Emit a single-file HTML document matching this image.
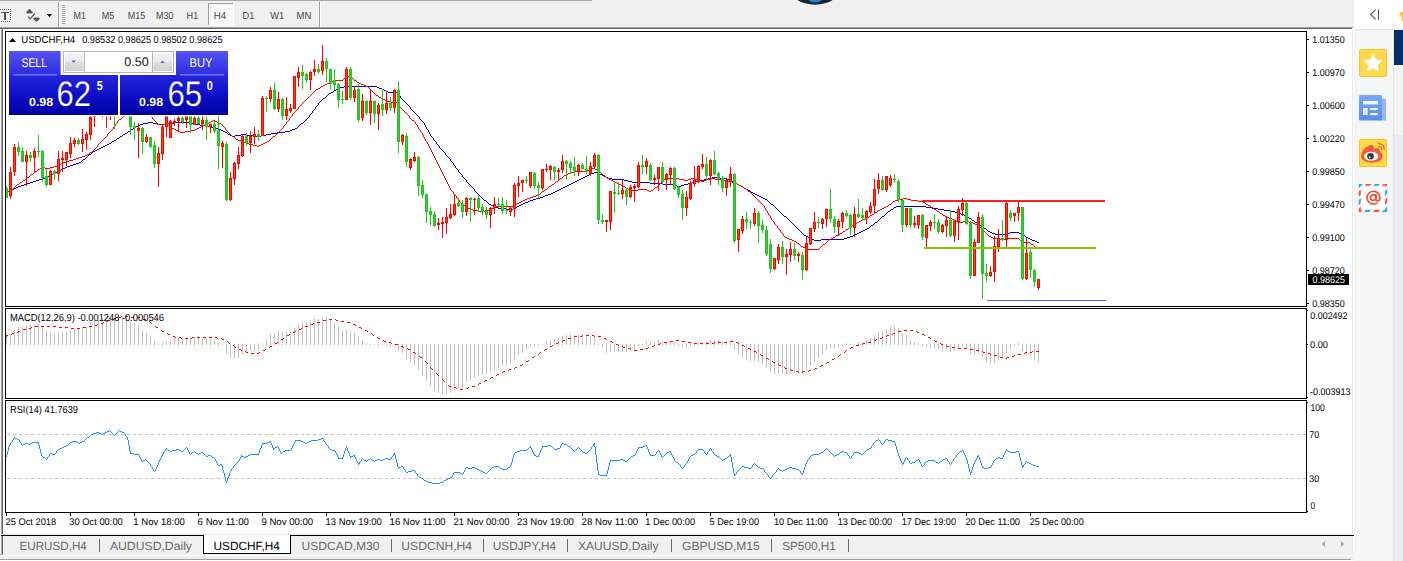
<!DOCTYPE html>
<html><head><meta charset="utf-8"><title>USDCHF,H4</title>
<style>html,body{margin:0;padding:0;background:#f0f0f0;overflow:hidden}body{width:1403px;height:561px;position:relative;font-family:"Liberation Sans",sans-serif}</style></head>
<body>
<svg width="1403" height="561" viewBox="0 0 1403 561" text-rendering="geometricPrecision" style="position:absolute;left:0;top:0;font-family:'Liberation Sans', sans-serif">
<defs>
<linearGradient id="gTop" x1="0" y1="0" x2="0" y2="1"><stop offset="0" stop-color="#5454f2"/><stop offset="1" stop-color="#2c2ce2"/></linearGradient>
<linearGradient id="gBot" x1="0" y1="0" x2="0" y2="1"><stop offset="0" stop-color="#2626dc"/><stop offset="0.55" stop-color="#0c0cc4"/><stop offset="1" stop-color="#0000a2"/></linearGradient>
<linearGradient id="gBotU" gradientUnits="userSpaceOnUse" x1="0" y1="75" x2="0" y2="115"><stop offset="0" stop-color="#2626dc"/><stop offset="0.55" stop-color="#0c0cc4"/><stop offset="1" stop-color="#0000a2"/></linearGradient>
<linearGradient id="gBtn" x1="0" y1="0" x2="0" y2="1"><stop offset="0" stop-color="#f3f3f3"/><stop offset="0.47" stop-color="#ebebeb"/><stop offset="0.53" stop-color="#dfdfdf"/><stop offset="1" stop-color="#d2d2d2"/></linearGradient>
<clipPath id="cMain"><rect x="6" y="32" width="1300" height="274"/></clipPath>
<clipPath id="cMacd"><rect x="6" y="309" width="1300" height="89"/></clipPath>
<clipPath id="cRsi"><rect x="6" y="401" width="1300" height="111"/></clipPath>
</defs>
<rect x="0" y="0" width="1403" height="561" fill="#f0f0f0" />
<rect x="0" y="0" width="592" height="1" fill="#a8a8a8" />
<ellipse cx="815" cy="-13" rx="26" ry="17.700" fill="#1b2330"/>
<ellipse cx="815" cy="-5" rx="9.4" ry="7.5" fill="#1e80d8"/>
<rect x="0" y="27" width="1353" height="1" fill="#a0a0a0" />
<rect x="0" y="28" width="1352" height="1" fill="#696969" />
<rect x="3" y="29" width="1350" height="505" fill="#ffffff" />
<rect x="1" y="29" width="1" height="505" fill="#a0a0a0" />
<rect x="2" y="29" width="1" height="505" fill="#696969" />
<rect x="0" y="29" width="1" height="505" fill="#f6f6f6" />
<rect x="1352" y="29" width="1" height="527" fill="#ececec" />
<rect x="1353" y="29" width="1" height="527" fill="#fbfbfb" />
<path d="M5.5 31.5H1306.5V306.5H5.5Z" fill="#fff" stroke="#000" stroke-width="1" shape-rendering="crispEdges"/>
<path d="M5.5 308.5H1306.5V398.5H5.5Z" fill="#fff" stroke="#000" stroke-width="1" shape-rendering="crispEdges"/>
<path d="M5.5 400.5H1306.5V512.5H5.5Z" fill="#fff" stroke="#000" stroke-width="1" shape-rendering="crispEdges"/>
<path clip-path="url(#cMain)" fill="#0000cd" shape-rendering="crispEdges" d="M344 86h33v1h-33zM340 87h4v1h-4zM377 87h2v1h-2zM338 88h2v1h-2zM379 88h3v1h-3zM336 89h2v1h-2zM382 89h2v1h-2zM334 90h2v1h-2zM384 90h2v1h-2zM333 91h1v1h-1zM386 91h2v1h-2zM331 92h2v1h-2zM388 92h9v1h-9zM329 93h2v1h-2zM397 93h1v1h-1zM328 94h1v1h-1zM398 94h1v1h-1zM327 95h1v1h-1zM399 95h1v1h-1zM326 96h1v1h-1zM400 96h1v1h-1zM325 97h1v1h-1zM400 97h1v1h-1zM323 98h2v1h-2zM401 98h1v1h-1zM322 99h1v1h-1zM402 99h1v1h-1zM321 100h1v1h-1zM403 100h1v1h-1zM320 101h1v1h-1zM404 101h1v1h-1zM319 102h1v1h-1zM405 102h1v1h-1zM318 103h1v1h-1zM406 103h1v1h-1zM318 104h1v1h-1zM407 104h1v1h-1zM317 105h1v1h-1zM408 105h1v1h-1zM316 106h1v1h-1zM409 106h1v1h-1zM315 107h1v1h-1zM410 107h1v1h-1zM315 108h1v1h-1zM410 108h1v1h-1zM314 109h1v1h-1zM411 109h1v1h-1zM313 110h1v1h-1zM412 110h1v1h-1zM312 111h1v1h-1zM413 111h1v1h-1zM312 112h1v1h-1zM414 112h1v1h-1zM311 113h1v1h-1zM415 113h1v1h-1zM310 114h1v1h-1zM416 114h1v1h-1zM309 115h1v1h-1zM417 115h1v1h-1zM309 116h1v1h-1zM418 116h1v1h-1zM308 117h1v1h-1zM419 117h1v1h-1zM307 118h1v1h-1zM419 118h1v1h-1zM306 119h1v1h-1zM420 119h1v1h-1zM305 120h1v1h-1zM421 120h1v1h-1zM304 121h1v1h-1zM422 121h1v1h-1zM148 122h5v1h-5zM174 122h18v1h-18zM303 122h1v1h-1zM423 122h1v1h-1zM143 123h5v1h-5zM153 123h5v1h-5zM165 123h9v1h-9zM192 123h4v1h-4zM301 123h2v1h-2zM424 123h1v1h-1zM140 124h3v1h-3zM158 124h7v1h-7zM196 124h4v1h-4zM300 124h1v1h-1zM424 124h1v1h-1zM138 125h2v1h-2zM200 125h5v1h-5zM299 125h1v1h-1zM425 125h1v1h-1zM136 126h2v1h-2zM205 126h6v1h-6zM298 126h1v1h-1zM425 126h1v1h-1zM135 127h1v1h-1zM211 127h5v1h-5zM297 127h1v1h-1zM426 127h1v1h-1zM133 128h2v1h-2zM216 128h2v1h-2zM295 128h2v1h-2zM426 128h1v1h-1zM131 129h2v1h-2zM218 129h3v1h-3zM292 129h3v1h-3zM427 129h1v1h-1zM130 130h1v1h-1zM221 130h2v1h-2zM290 130h2v1h-2zM428 130h1v1h-1zM128 131h2v1h-2zM223 131h2v1h-2zM285 131h5v1h-5zM428 131h1v1h-1zM127 132h1v1h-1zM225 132h2v1h-2zM277 132h8v1h-8zM429 132h1v1h-1zM125 133h2v1h-2zM227 133h1v1h-1zM271 133h6v1h-6zM429 133h1v1h-1zM123 134h2v1h-2zM228 134h2v1h-2zM241 134h6v1h-6zM266 134h5v1h-5zM430 134h1v1h-1zM122 135h1v1h-1zM230 135h2v1h-2zM235 135h6v1h-6zM247 135h8v1h-8zM261 135h5v1h-5zM430 135h1v1h-1zM120 136h2v1h-2zM232 136h3v1h-3zM255 136h6v1h-6zM431 136h1v1h-1zM119 137h1v1h-1zM432 137h1v1h-1zM117 138h2v1h-2zM433 138h1v1h-1zM116 139h1v1h-1zM433 139h1v1h-1zM114 140h2v1h-2zM434 140h1v1h-1zM112 141h2v1h-2zM435 141h1v1h-1zM111 142h1v1h-1zM436 142h1v1h-1zM109 143h2v1h-2zM436 143h1v1h-1zM107 144h2v1h-2zM437 144h1v1h-1zM105 145h2v1h-2zM438 145h1v1h-1zM103 146h2v1h-2zM439 146h1v1h-1zM101 147h2v1h-2zM439 147h1v1h-1zM99 148h2v1h-2zM440 148h1v1h-1zM97 149h2v1h-2zM441 149h1v1h-1zM95 150h2v1h-2zM442 150h1v1h-1zM93 151h2v1h-2zM443 151h1v1h-1zM92 152h1v1h-1zM444 152h1v1h-1zM91 153h1v1h-1zM445 153h1v1h-1zM89 154h2v1h-2zM445 154h1v1h-1zM88 155h1v1h-1zM446 155h1v1h-1zM87 156h1v1h-1zM447 156h1v1h-1zM86 157h1v1h-1zM448 157h1v1h-1zM85 158h1v1h-1zM449 158h1v1h-1zM83 159h2v1h-2zM450 159h1v1h-1zM82 160h1v1h-1zM450 160h1v1h-1zM81 161h1v1h-1zM451 161h1v1h-1zM79 162h2v1h-2zM452 162h1v1h-1zM76 163h3v1h-3zM453 163h1v1h-1zM73 164h3v1h-3zM453 164h1v1h-1zM70 165h3v1h-3zM454 165h1v1h-1zM67 166h3v1h-3zM455 166h1v1h-1zM65 167h2v1h-2zM455 167h1v1h-1zM63 168h2v1h-2zM456 168h1v1h-1zM61 169h2v1h-2zM457 169h1v1h-1zM59 170h2v1h-2zM458 170h1v1h-1zM57 171h2v1h-2zM458 171h1v1h-1zM55 172h2v1h-2zM459 172h1v1h-1zM594 172h4v1h-4zM53 173h2v1h-2zM460 173h1v1h-1zM591 173h3v1h-3zM598 173h2v1h-2zM51 174h2v1h-2zM461 174h1v1h-1zM589 174h2v1h-2zM600 174h2v1h-2zM49 175h2v1h-2zM462 175h1v1h-1zM587 175h2v1h-2zM602 175h2v1h-2zM47 176h2v1h-2zM462 176h1v1h-1zM585 176h2v1h-2zM604 176h2v1h-2zM45 177h2v1h-2zM463 177h1v1h-1zM583 177h2v1h-2zM606 177h2v1h-2zM712 177h8v1h-8zM42 178h3v1h-3zM464 178h1v1h-1zM581 178h2v1h-2zM608 178h4v1h-4zM708 178h4v1h-4zM720 178h7v1h-7zM39 179h3v1h-3zM465 179h1v1h-1zM579 179h2v1h-2zM612 179h12v1h-12zM704 179h4v1h-4zM727 179h2v1h-2zM36 180h3v1h-3zM466 180h1v1h-1zM577 180h2v1h-2zM624 180h4v1h-4zM700 180h4v1h-4zM729 180h2v1h-2zM33 181h3v1h-3zM466 181h1v1h-1zM575 181h2v1h-2zM628 181h4v1h-4zM696 181h4v1h-4zM731 181h2v1h-2zM30 182h3v1h-3zM467 182h1v1h-1zM573 182h2v1h-2zM632 182h18v1h-18zM692 182h4v1h-4zM733 182h2v1h-2zM27 183h3v1h-3zM468 183h1v1h-1zM571 183h2v1h-2zM650 183h12v1h-12zM688 183h4v1h-4zM735 183h2v1h-2zM24 184h3v1h-3zM469 184h1v1h-1zM569 184h2v1h-2zM662 184h11v1h-11zM684 184h4v1h-4zM737 184h2v1h-2zM21 185h3v1h-3zM470 185h1v1h-1zM567 185h2v1h-2zM673 185h4v1h-4zM681 185h3v1h-3zM739 185h2v1h-2zM18 186h3v1h-3zM471 186h1v1h-1zM565 186h2v1h-2zM677 186h4v1h-4zM741 186h2v1h-2zM16 187h2v1h-2zM472 187h1v1h-1zM563 187h2v1h-2zM743 187h1v1h-1zM14 188h2v1h-2zM473 188h1v1h-1zM561 188h2v1h-2zM744 188h2v1h-2zM12 189h2v1h-2zM474 189h1v1h-1zM559 189h2v1h-2zM746 189h2v1h-2zM10 190h2v1h-2zM474 190h1v1h-1zM557 190h2v1h-2zM748 190h2v1h-2zM8 191h2v1h-2zM475 191h1v1h-1zM555 191h2v1h-2zM750 191h1v1h-1zM6 192h2v1h-2zM476 192h1v1h-1zM553 192h2v1h-2zM751 192h2v1h-2zM477 193h1v1h-1zM551 193h2v1h-2zM753 193h2v1h-2zM478 194h1v1h-1zM548 194h3v1h-3zM755 194h2v1h-2zM479 195h1v1h-1zM545 195h3v1h-3zM757 195h2v1h-2zM480 196h1v1h-1zM543 196h2v1h-2zM759 196h2v1h-2zM481 197h1v1h-1zM540 197h3v1h-3zM761 197h2v1h-2zM482 198h1v1h-1zM536 198h4v1h-4zM763 198h2v1h-2zM483 199h1v1h-1zM533 199h3v1h-3zM765 199h2v1h-2zM484 200h2v1h-2zM530 200h3v1h-3zM767 200h1v1h-1zM486 201h1v1h-1zM528 201h2v1h-2zM768 201h1v1h-1zM487 202h1v1h-1zM525 202h3v1h-3zM769 202h1v1h-1zM488 203h1v1h-1zM523 203h2v1h-2zM770 203h1v1h-1zM489 204h2v1h-2zM521 204h2v1h-2zM771 204h2v1h-2zM491 205h2v1h-2zM519 205h2v1h-2zM773 205h1v1h-1zM493 206h3v1h-3zM517 206h2v1h-2zM774 206h1v1h-1zM896 206h30v1h-30zM496 207h2v1h-2zM515 207h2v1h-2zM775 207h1v1h-1zM894 207h2v1h-2zM926 207h6v1h-6zM498 208h8v1h-8zM513 208h2v1h-2zM776 208h1v1h-1zM893 208h1v1h-1zM932 208h6v1h-6zM506 209h7v1h-7zM777 209h1v1h-1zM891 209h2v1h-2zM938 209h6v1h-6zM778 210h1v1h-1zM890 210h1v1h-1zM944 210h6v1h-6zM779 211h1v1h-1zM888 211h2v1h-2zM950 211h5v1h-5zM780 212h1v1h-1zM887 212h1v1h-1zM955 212h4v1h-4zM781 213h1v1h-1zM886 213h1v1h-1zM959 213h2v1h-2zM782 214h1v1h-1zM885 214h1v1h-1zM961 214h3v1h-3zM783 215h1v1h-1zM884 215h1v1h-1zM964 215h2v1h-2zM784 216h2v1h-2zM882 216h2v1h-2zM966 216h2v1h-2zM786 217h1v1h-1zM881 217h1v1h-1zM968 217h1v1h-1zM787 218h1v1h-1zM880 218h1v1h-1zM969 218h2v1h-2zM788 219h1v1h-1zM879 219h1v1h-1zM971 219h1v1h-1zM789 220h1v1h-1zM878 220h1v1h-1zM972 220h2v1h-2zM790 221h1v1h-1zM877 221h1v1h-1zM974 221h1v1h-1zM791 222h1v1h-1zM875 222h2v1h-2zM975 222h2v1h-2zM792 223h1v1h-1zM874 223h1v1h-1zM977 223h1v1h-1zM793 224h1v1h-1zM873 224h1v1h-1zM978 224h2v1h-2zM794 225h1v1h-1zM871 225h2v1h-2zM980 225h2v1h-2zM795 226h1v1h-1zM870 226h1v1h-1zM982 226h1v1h-1zM796 227h1v1h-1zM869 227h1v1h-1zM983 227h1v1h-1zM797 228h1v1h-1zM867 228h2v1h-2zM984 228h2v1h-2zM798 229h1v1h-1zM865 229h2v1h-2zM986 229h1v1h-1zM799 230h1v1h-1zM863 230h2v1h-2zM987 230h1v1h-1zM800 231h1v1h-1zM861 231h2v1h-2zM988 231h2v1h-2zM801 232h1v1h-1zM859 232h2v1h-2zM990 232h2v1h-2zM1010 232h9v1h-9zM802 233h1v1h-1zM857 233h2v1h-2zM992 233h3v1h-3zM1006 233h4v1h-4zM1019 233h2v1h-2zM803 234h1v1h-1zM855 234h2v1h-2zM995 234h11v1h-11zM1021 234h2v1h-2zM804 235h2v1h-2zM853 235h2v1h-2zM1023 235h2v1h-2zM806 236h2v1h-2zM850 236h3v1h-3zM1025 236h1v1h-1zM808 237h2v1h-2zM847 237h3v1h-3zM1026 237h2v1h-2zM810 238h2v1h-2zM844 238h3v1h-3zM1028 238h2v1h-2zM812 239h2v1h-2zM821 239h23v1h-23zM1030 239h2v1h-2zM814 240h7v1h-7zM1032 240h3v1h-3zM1035 241h2v1h-2zM1037 242h2v1h-2z"/>
<path clip-path="url(#cMain)" fill="#ff0000" shape-rendering="crispEdges" d="M347 76h2v1h-2zM346 77h1v1h-1zM349 77h2v1h-2zM344 78h2v1h-2zM351 78h2v1h-2zM343 79h1v1h-1zM353 79h1v1h-1zM335 80h8v1h-8zM354 80h2v1h-2zM332 81h3v1h-3zM356 81h1v1h-1zM330 82h2v1h-2zM357 82h2v1h-2zM327 83h3v1h-3zM359 83h2v1h-2zM325 84h2v1h-2zM361 84h3v1h-3zM323 85h2v1h-2zM364 85h2v1h-2zM321 86h2v1h-2zM366 86h2v1h-2zM320 87h1v1h-1zM368 87h1v1h-1zM318 88h2v1h-2zM369 88h1v1h-1zM316 89h2v1h-2zM370 89h1v1h-1zM315 90h1v1h-1zM371 90h1v1h-1zM314 91h1v1h-1zM372 91h1v1h-1zM313 92h1v1h-1zM373 92h1v1h-1zM312 93h1v1h-1zM374 93h1v1h-1zM311 94h1v1h-1zM375 94h1v1h-1zM310 95h1v1h-1zM376 95h2v1h-2zM309 96h1v1h-1zM378 96h1v1h-1zM308 97h1v1h-1zM379 97h2v1h-2zM307 98h1v1h-1zM381 98h2v1h-2zM306 99h1v1h-1zM383 99h2v1h-2zM305 100h1v1h-1zM385 100h2v1h-2zM304 101h1v1h-1zM387 101h3v1h-3zM303 102h1v1h-1zM390 102h7v1h-7zM302 103h1v1h-1zM397 103h1v1h-1zM301 104h1v1h-1zM398 104h1v1h-1zM300 105h1v1h-1zM398 105h1v1h-1zM299 106h1v1h-1zM399 106h1v1h-1zM298 107h1v1h-1zM400 107h1v1h-1zM298 108h1v1h-1zM401 108h1v1h-1zM297 109h1v1h-1zM402 109h1v1h-1zM134 110h6v1h-6zM296 110h1v1h-1zM403 110h1v1h-1zM132 111h2v1h-2zM140 111h7v1h-7zM295 111h1v1h-1zM404 111h1v1h-1zM130 112h2v1h-2zM147 112h1v1h-1zM294 112h1v1h-1zM405 112h1v1h-1zM128 113h2v1h-2zM148 113h1v1h-1zM293 113h1v1h-1zM406 113h1v1h-1zM126 114h2v1h-2zM149 114h1v1h-1zM292 114h1v1h-1zM407 114h1v1h-1zM125 115h1v1h-1zM150 115h1v1h-1zM292 115h1v1h-1zM408 115h1v1h-1zM123 116h2v1h-2zM151 116h1v1h-1zM291 116h1v1h-1zM409 116h1v1h-1zM122 117h1v1h-1zM152 117h1v1h-1zM290 117h1v1h-1zM409 117h1v1h-1zM121 118h1v1h-1zM152 118h1v1h-1zM289 118h1v1h-1zM410 118h1v1h-1zM119 119h2v1h-2zM153 119h1v1h-1zM289 119h1v1h-1zM411 119h1v1h-1zM118 120h1v1h-1zM154 120h1v1h-1zM213 120h2v1h-2zM288 120h1v1h-1zM412 120h2v1h-2zM117 121h1v1h-1zM155 121h1v1h-1zM211 121h2v1h-2zM215 121h2v1h-2zM287 121h1v1h-1zM414 121h1v1h-1zM117 122h1v1h-1zM156 122h1v1h-1zM209 122h2v1h-2zM217 122h2v1h-2zM286 122h1v1h-1zM415 122h1v1h-1zM116 123h1v1h-1zM156 123h1v1h-1zM207 123h2v1h-2zM219 123h2v1h-2zM286 123h1v1h-1zM415 123h1v1h-1zM115 124h1v1h-1zM157 124h10v1h-10zM205 124h2v1h-2zM221 124h1v1h-1zM285 124h1v1h-1zM416 124h1v1h-1zM115 125h1v1h-1zM167 125h2v1h-2zM203 125h2v1h-2zM222 125h1v1h-1zM284 125h1v1h-1zM417 125h1v1h-1zM114 126h1v1h-1zM169 126h2v1h-2zM201 126h2v1h-2zM223 126h1v1h-1zM283 126h1v1h-1zM417 126h1v1h-1zM113 127h1v1h-1zM171 127h1v1h-1zM199 127h2v1h-2zM224 127h1v1h-1zM283 127h1v1h-1zM418 127h1v1h-1zM113 128h1v1h-1zM172 128h2v1h-2zM197 128h2v1h-2zM225 128h1v1h-1zM282 128h1v1h-1zM418 128h1v1h-1zM112 129h1v1h-1zM174 129h2v1h-2zM195 129h2v1h-2zM225 129h1v1h-1zM281 129h1v1h-1zM419 129h1v1h-1zM111 130h1v1h-1zM176 130h2v1h-2zM191 130h4v1h-4zM226 130h1v1h-1zM280 130h1v1h-1zM420 130h1v1h-1zM110 131h1v1h-1zM178 131h2v1h-2zM185 131h6v1h-6zM227 131h1v1h-1zM279 131h1v1h-1zM420 131h1v1h-1zM109 132h1v1h-1zM180 132h5v1h-5zM228 132h1v1h-1zM278 132h1v1h-1zM421 132h1v1h-1zM108 133h1v1h-1zM229 133h1v1h-1zM277 133h1v1h-1zM422 133h1v1h-1zM107 134h1v1h-1zM230 134h1v1h-1zM276 134h1v1h-1zM422 134h1v1h-1zM107 135h1v1h-1zM231 135h1v1h-1zM275 135h1v1h-1zM423 135h1v1h-1zM106 136h1v1h-1zM232 136h2v1h-2zM273 136h2v1h-2zM423 136h1v1h-1zM105 137h1v1h-1zM234 137h1v1h-1zM272 137h1v1h-1zM424 137h1v1h-1zM104 138h1v1h-1zM235 138h1v1h-1zM271 138h1v1h-1zM424 138h1v1h-1zM103 139h1v1h-1zM236 139h2v1h-2zM270 139h1v1h-1zM425 139h1v1h-1zM102 140h1v1h-1zM238 140h3v1h-3zM269 140h1v1h-1zM425 140h1v1h-1zM101 141h1v1h-1zM241 141h2v1h-2zM267 141h2v1h-2zM426 141h1v1h-1zM100 142h1v1h-1zM243 142h3v1h-3zM265 142h2v1h-2zM427 142h1v1h-1zM99 143h1v1h-1zM246 143h3v1h-3zM263 143h2v1h-2zM427 143h1v1h-1zM98 144h1v1h-1zM249 144h4v1h-4zM261 144h2v1h-2zM428 144h1v1h-1zM97 145h1v1h-1zM253 145h4v1h-4zM259 145h2v1h-2zM428 145h1v1h-1zM97 146h1v1h-1zM257 146h2v1h-2zM429 146h1v1h-1zM96 147h1v1h-1zM429 147h1v1h-1zM95 148h1v1h-1zM430 148h1v1h-1zM94 149h1v1h-1zM430 149h1v1h-1zM93 150h1v1h-1zM431 150h1v1h-1zM92 151h1v1h-1zM431 151h1v1h-1zM90 152h2v1h-2zM432 152h1v1h-1zM89 153h1v1h-1zM432 153h1v1h-1zM87 154h2v1h-2zM433 154h1v1h-1zM85 155h2v1h-2zM433 155h1v1h-1zM82 156h3v1h-3zM434 156h1v1h-1zM79 157h3v1h-3zM434 157h1v1h-1zM76 158h3v1h-3zM435 158h1v1h-1zM73 159h3v1h-3zM435 159h1v1h-1zM69 160h4v1h-4zM436 160h1v1h-1zM66 161h3v1h-3zM436 161h1v1h-1zM63 162h3v1h-3zM437 162h1v1h-1zM61 163h2v1h-2zM437 163h1v1h-1zM59 164h2v1h-2zM438 164h1v1h-1zM57 165h2v1h-2zM438 165h1v1h-1zM54 166h3v1h-3zM439 166h1v1h-1zM42 167h3v1h-3zM50 167h4v1h-4zM439 167h1v1h-1zM40 168h2v1h-2zM45 168h5v1h-5zM440 168h1v1h-1zM591 168h4v1h-4zM38 169h2v1h-2zM440 169h1v1h-1zM589 169h2v1h-2zM595 169h2v1h-2zM37 170h1v1h-1zM441 170h1v1h-1zM587 170h2v1h-2zM597 170h1v1h-1zM35 171h2v1h-2zM441 171h1v1h-1zM575 171h12v1h-12zM598 171h1v1h-1zM34 172h1v1h-1zM442 172h1v1h-1zM571 172h4v1h-4zM599 172h2v1h-2zM33 173h1v1h-1zM442 173h1v1h-1zM568 173h3v1h-3zM601 173h1v1h-1zM31 174h2v1h-2zM443 174h1v1h-1zM566 174h2v1h-2zM602 174h1v1h-1zM30 175h1v1h-1zM443 175h1v1h-1zM564 175h2v1h-2zM603 175h2v1h-2zM29 176h1v1h-1zM444 176h1v1h-1zM563 176h1v1h-1zM605 176h1v1h-1zM27 177h2v1h-2zM444 177h1v1h-1zM562 177h1v1h-1zM606 177h1v1h-1zM26 178h1v1h-1zM445 178h1v1h-1zM560 178h2v1h-2zM607 178h2v1h-2zM665 178h14v1h-14zM691 178h3v1h-3zM710 178h5v1h-5zM25 179h1v1h-1zM445 179h1v1h-1zM559 179h1v1h-1zM609 179h2v1h-2zM664 179h1v1h-1zM679 179h5v1h-5zM688 179h3v1h-3zM694 179h3v1h-3zM707 179h3v1h-3zM715 179h8v1h-8zM23 180h2v1h-2zM446 180h1v1h-1zM558 180h1v1h-1zM611 180h2v1h-2zM663 180h1v1h-1zM684 180h4v1h-4zM697 180h4v1h-4zM704 180h3v1h-3zM723 180h5v1h-5zM22 181h1v1h-1zM446 181h1v1h-1zM556 181h2v1h-2zM613 181h2v1h-2zM662 181h1v1h-1zM701 181h3v1h-3zM728 181h4v1h-4zM20 182h2v1h-2zM447 182h1v1h-1zM555 182h1v1h-1zM615 182h2v1h-2zM661 182h1v1h-1zM732 182h3v1h-3zM19 183h1v1h-1zM447 183h1v1h-1zM554 183h1v1h-1zM617 183h2v1h-2zM660 183h1v1h-1zM735 183h2v1h-2zM17 184h2v1h-2zM448 184h1v1h-1zM552 184h2v1h-2zM619 184h2v1h-2zM659 184h1v1h-1zM737 184h2v1h-2zM16 185h1v1h-1zM448 185h1v1h-1zM551 185h1v1h-1zM621 185h2v1h-2zM658 185h1v1h-1zM739 185h2v1h-2zM15 186h1v1h-1zM449 186h1v1h-1zM549 186h2v1h-2zM623 186h2v1h-2zM657 186h1v1h-1zM741 186h2v1h-2zM14 187h1v1h-1zM449 187h1v1h-1zM548 187h1v1h-1zM625 187h1v1h-1zM655 187h2v1h-2zM743 187h1v1h-1zM13 188h1v1h-1zM450 188h1v1h-1zM547 188h1v1h-1zM626 188h2v1h-2zM654 188h1v1h-1zM744 188h2v1h-2zM12 189h1v1h-1zM450 189h1v1h-1zM545 189h2v1h-2zM628 189h2v1h-2zM638 189h9v1h-9zM653 189h1v1h-1zM746 189h1v1h-1zM10 190h2v1h-2zM451 190h1v1h-1zM544 190h1v1h-1zM630 190h8v1h-8zM647 190h2v1h-2zM651 190h2v1h-2zM747 190h1v1h-1zM8 191h2v1h-2zM452 191h1v1h-1zM542 191h2v1h-2zM649 191h2v1h-2zM748 191h2v1h-2zM6 192h2v1h-2zM453 192h1v1h-1zM541 192h1v1h-1zM750 192h1v1h-1zM453 193h1v1h-1zM540 193h1v1h-1zM751 193h1v1h-1zM454 194h1v1h-1zM538 194h2v1h-2zM752 194h1v1h-1zM455 195h1v1h-1zM536 195h2v1h-2zM753 195h1v1h-1zM456 196h1v1h-1zM533 196h3v1h-3zM754 196h1v1h-1zM456 197h1v1h-1zM530 197h3v1h-3zM755 197h1v1h-1zM457 198h1v1h-1zM527 198h3v1h-3zM756 198h1v1h-1zM903 198h4v1h-4zM458 199h1v1h-1zM525 199h2v1h-2zM757 199h1v1h-1zM898 199h5v1h-5zM907 199h4v1h-4zM459 200h1v1h-1zM523 200h2v1h-2zM758 200h1v1h-1zM895 200h3v1h-3zM911 200h7v1h-7zM459 201h1v1h-1zM521 201h2v1h-2zM759 201h1v1h-1zM893 201h2v1h-2zM918 201h5v1h-5zM460 202h1v1h-1zM519 202h2v1h-2zM760 202h1v1h-1zM892 202h1v1h-1zM923 202h2v1h-2zM461 203h2v1h-2zM517 203h2v1h-2zM761 203h1v1h-1zM891 203h1v1h-1zM925 203h1v1h-1zM463 204h1v1h-1zM515 204h2v1h-2zM762 204h1v1h-1zM889 204h2v1h-2zM926 204h2v1h-2zM464 205h1v1h-1zM513 205h2v1h-2zM763 205h1v1h-1zM888 205h1v1h-1zM928 205h2v1h-2zM465 206h2v1h-2zM496 206h17v1h-17zM764 206h1v1h-1zM886 206h2v1h-2zM930 206h1v1h-1zM467 207h1v1h-1zM494 207h2v1h-2zM764 207h1v1h-1zM884 207h2v1h-2zM931 207h2v1h-2zM468 208h2v1h-2zM492 208h2v1h-2zM765 208h1v1h-1zM882 208h2v1h-2zM933 208h1v1h-1zM470 209h3v1h-3zM490 209h2v1h-2zM765 209h1v1h-1zM880 209h2v1h-2zM934 209h2v1h-2zM473 210h5v1h-5zM485 210h5v1h-5zM766 210h1v1h-1zM878 210h2v1h-2zM936 210h1v1h-1zM478 211h7v1h-7zM767 211h1v1h-1zM877 211h1v1h-1zM937 211h2v1h-2zM767 212h1v1h-1zM875 212h2v1h-2zM939 212h1v1h-1zM768 213h1v1h-1zM874 213h1v1h-1zM940 213h2v1h-2zM768 214h1v1h-1zM872 214h2v1h-2zM942 214h1v1h-1zM769 215h1v1h-1zM870 215h2v1h-2zM943 215h2v1h-2zM770 216h1v1h-1zM869 216h1v1h-1zM945 216h2v1h-2zM770 217h1v1h-1zM867 217h2v1h-2zM947 217h2v1h-2zM771 218h1v1h-1zM865 218h2v1h-2zM949 218h3v1h-3zM771 219h1v1h-1zM863 219h2v1h-2zM952 219h2v1h-2zM772 220h1v1h-1zM861 220h2v1h-2zM954 220h2v1h-2zM773 221h1v1h-1zM859 221h2v1h-2zM956 221h2v1h-2zM963 221h6v1h-6zM774 222h1v1h-1zM857 222h2v1h-2zM958 222h5v1h-5zM969 222h4v1h-4zM774 223h1v1h-1zM855 223h2v1h-2zM973 223h2v1h-2zM775 224h1v1h-1zM854 224h1v1h-1zM975 224h2v1h-2zM776 225h1v1h-1zM852 225h2v1h-2zM977 225h1v1h-1zM777 226h1v1h-1zM851 226h1v1h-1zM978 226h2v1h-2zM777 227h1v1h-1zM849 227h2v1h-2zM980 227h1v1h-1zM778 228h1v1h-1zM848 228h1v1h-1zM981 228h1v1h-1zM779 229h1v1h-1zM846 229h2v1h-2zM982 229h1v1h-1zM780 230h1v1h-1zM845 230h1v1h-1zM983 230h1v1h-1zM780 231h1v1h-1zM843 231h2v1h-2zM984 231h1v1h-1zM781 232h1v1h-1zM842 232h1v1h-1zM985 232h1v1h-1zM782 233h1v1h-1zM840 233h2v1h-2zM986 233h1v1h-1zM783 234h1v1h-1zM838 234h2v1h-2zM987 234h1v1h-1zM783 235h1v1h-1zM836 235h2v1h-2zM988 235h1v1h-1zM784 236h1v1h-1zM835 236h1v1h-1zM989 236h2v1h-2zM785 237h2v1h-2zM833 237h2v1h-2zM991 237h2v1h-2zM787 238h2v1h-2zM831 238h2v1h-2zM993 238h5v1h-5zM1005 238h14v1h-14zM789 239h3v1h-3zM829 239h2v1h-2zM998 239h7v1h-7zM1019 239h1v1h-1zM792 240h2v1h-2zM828 240h1v1h-1zM1020 240h2v1h-2zM794 241h2v1h-2zM827 241h1v1h-1zM1022 241h1v1h-1zM796 242h1v1h-1zM826 242h1v1h-1zM1023 242h7v1h-7zM797 243h2v1h-2zM825 243h1v1h-1zM1030 243h1v1h-1zM799 244h1v1h-1zM823 244h2v1h-2zM1031 244h2v1h-2zM800 245h1v1h-1zM822 245h1v1h-1zM1033 245h1v1h-1zM801 246h2v1h-2zM821 246h1v1h-1zM1034 246h1v1h-1zM803 247h2v1h-2zM820 247h1v1h-1zM805 248h3v1h-3zM819 248h1v1h-1zM808 249h11v1h-11z"/>
<g clip-path="url(#cMain)" shape-rendering="crispEdges">
<rect x="6" y="186" width="1" height="12" fill="#22c522"/>
<rect x="5" y="188" width="3" height="10" fill="#22c522"/>
<rect x="6" y="189" width="1" height="8" fill="#32cd32"/>
<rect x="10" y="167" width="1" height="32" fill="#ff0000"/>
<rect x="9" y="172" width="3" height="24" fill="#ff0000"/>
<rect x="10" y="173" width="1" height="22" fill="#ff4500"/>
<rect x="14" y="144" width="1" height="32" fill="#ff0000"/>
<rect x="13" y="147" width="3" height="25" fill="#ff0000"/>
<rect x="14" y="148" width="1" height="23" fill="#ff4500"/>
<rect x="18" y="142" width="1" height="14" fill="#22c522"/>
<rect x="17" y="147" width="3" height="5" fill="#22c522"/>
<rect x="18" y="148" width="1" height="3" fill="#32cd32"/>
<rect x="22" y="147" width="1" height="15" fill="#22c522"/>
<rect x="21" y="151" width="3" height="11" fill="#22c522"/>
<rect x="22" y="152" width="1" height="9" fill="#32cd32"/>
<rect x="26" y="151" width="1" height="35" fill="#ff0000"/>
<rect x="25" y="155" width="3" height="7" fill="#ff0000"/>
<rect x="26" y="156" width="1" height="5" fill="#ff4500"/>
<rect x="30" y="152" width="1" height="10" fill="#22c522"/>
<rect x="29" y="155" width="3" height="3" fill="#22c522"/>
<rect x="30" y="156" width="1" height="1" fill="#32cd32"/>
<rect x="34" y="148" width="1" height="25" fill="#ff0000"/>
<rect x="33" y="151" width="3" height="7" fill="#ff0000"/>
<rect x="34" y="152" width="1" height="5" fill="#ff4500"/>
<rect x="38" y="135" width="1" height="22" fill="#22c522"/>
<rect x="37" y="151" width="3" height="1" fill="#22c522"/>
<rect x="42" y="150" width="1" height="32" fill="#22c522"/>
<rect x="41" y="151" width="3" height="27" fill="#22c522"/>
<rect x="42" y="152" width="1" height="25" fill="#32cd32"/>
<rect x="46" y="169" width="1" height="18" fill="#22c522"/>
<rect x="45" y="176" width="3" height="9" fill="#22c522"/>
<rect x="46" y="177" width="1" height="7" fill="#32cd32"/>
<rect x="50" y="170" width="1" height="15" fill="#ff0000"/>
<rect x="49" y="171" width="3" height="14" fill="#ff0000"/>
<rect x="50" y="172" width="1" height="12" fill="#ff4500"/>
<rect x="54" y="170" width="1" height="10" fill="#22c522"/>
<rect x="53" y="171" width="3" height="3" fill="#22c522"/>
<rect x="54" y="172" width="1" height="1" fill="#32cd32"/>
<rect x="58" y="151" width="1" height="30" fill="#ff0000"/>
<rect x="57" y="159" width="3" height="15" fill="#ff0000"/>
<rect x="58" y="160" width="1" height="13" fill="#ff4500"/>
<rect x="62" y="151" width="1" height="21" fill="#ff0000"/>
<rect x="61" y="158" width="3" height="2" fill="#ff0000"/>
<rect x="66" y="152" width="1" height="14" fill="#ff0000"/>
<rect x="65" y="152" width="3" height="8" fill="#ff0000"/>
<rect x="66" y="153" width="1" height="6" fill="#ff4500"/>
<rect x="70" y="137" width="1" height="21" fill="#ff0000"/>
<rect x="69" y="143" width="3" height="11" fill="#ff0000"/>
<rect x="70" y="144" width="1" height="9" fill="#ff4500"/>
<rect x="74" y="138" width="1" height="9" fill="#ff0000"/>
<rect x="73" y="140" width="3" height="4" fill="#ff0000"/>
<rect x="74" y="141" width="1" height="2" fill="#ff4500"/>
<rect x="78" y="138" width="1" height="7" fill="#22c522"/>
<rect x="77" y="140" width="3" height="4" fill="#22c522"/>
<rect x="78" y="141" width="1" height="2" fill="#32cd32"/>
<rect x="82" y="129" width="1" height="23" fill="#ff0000"/>
<rect x="81" y="139" width="3" height="5" fill="#ff0000"/>
<rect x="82" y="140" width="1" height="3" fill="#ff4500"/>
<rect x="86" y="132" width="1" height="18" fill="#ff0000"/>
<rect x="85" y="134" width="3" height="6" fill="#ff0000"/>
<rect x="86" y="135" width="1" height="4" fill="#ff4500"/>
<rect x="90" y="115" width="1" height="25" fill="#ff0000"/>
<rect x="89" y="117" width="3" height="18" fill="#ff0000"/>
<rect x="90" y="118" width="1" height="16" fill="#ff4500"/>
<rect x="94" y="106" width="1" height="21" fill="#ff0000"/>
<rect x="93" y="108" width="3" height="9" fill="#ff0000"/>
<rect x="94" y="109" width="1" height="7" fill="#ff4500"/>
<rect x="98" y="104" width="1" height="10" fill="#22c522"/>
<rect x="97" y="108" width="3" height="4" fill="#22c522"/>
<rect x="98" y="109" width="1" height="2" fill="#32cd32"/>
<rect x="102" y="108" width="1" height="10" fill="#22c522"/>
<rect x="101" y="110" width="3" height="6" fill="#22c522"/>
<rect x="102" y="111" width="1" height="4" fill="#32cd32"/>
<rect x="106" y="105" width="1" height="23" fill="#ff0000"/>
<rect x="105" y="108" width="3" height="6" fill="#ff0000"/>
<rect x="106" y="109" width="1" height="4" fill="#ff4500"/>
<rect x="110" y="100" width="1" height="20" fill="#ff0000"/>
<rect x="109" y="104" width="3" height="8" fill="#ff0000"/>
<rect x="110" y="105" width="1" height="6" fill="#ff4500"/>
<rect x="114" y="100" width="1" height="29" fill="#22c522"/>
<rect x="113" y="104" width="3" height="6" fill="#22c522"/>
<rect x="114" y="105" width="1" height="4" fill="#32cd32"/>
<rect x="118" y="98" width="1" height="12" fill="#ff0000"/>
<rect x="117" y="100" width="3" height="8" fill="#ff0000"/>
<rect x="118" y="101" width="1" height="6" fill="#ff4500"/>
<rect x="122" y="98" width="1" height="12" fill="#22c522"/>
<rect x="121" y="100" width="3" height="6" fill="#22c522"/>
<rect x="122" y="101" width="1" height="4" fill="#32cd32"/>
<rect x="126" y="98" width="1" height="12" fill="#ff0000"/>
<rect x="125" y="100" width="3" height="6" fill="#ff0000"/>
<rect x="126" y="101" width="1" height="4" fill="#ff4500"/>
<rect x="130" y="100" width="1" height="35" fill="#22c522"/>
<rect x="129" y="105" width="3" height="22" fill="#22c522"/>
<rect x="130" y="106" width="1" height="20" fill="#32cd32"/>
<rect x="134" y="122" width="1" height="18" fill="#22c522"/>
<rect x="133" y="126" width="3" height="2" fill="#22c522"/>
<rect x="138" y="123" width="1" height="35" fill="#ff0000"/>
<rect x="137" y="128" width="3" height="3" fill="#ff0000"/>
<rect x="138" y="129" width="1" height="1" fill="#ff4500"/>
<rect x="142" y="127" width="1" height="27" fill="#22c522"/>
<rect x="141" y="128" width="3" height="14" fill="#22c522"/>
<rect x="142" y="129" width="1" height="12" fill="#32cd32"/>
<rect x="146" y="134" width="1" height="9" fill="#ff0000"/>
<rect x="145" y="137" width="3" height="5" fill="#ff0000"/>
<rect x="146" y="138" width="1" height="3" fill="#ff4500"/>
<rect x="150" y="137" width="1" height="11" fill="#22c522"/>
<rect x="149" y="137" width="3" height="10" fill="#22c522"/>
<rect x="150" y="138" width="1" height="8" fill="#32cd32"/>
<rect x="154" y="141" width="1" height="27" fill="#22c522"/>
<rect x="153" y="145" width="3" height="19" fill="#22c522"/>
<rect x="154" y="146" width="1" height="17" fill="#32cd32"/>
<rect x="158" y="147" width="1" height="40" fill="#ff0000"/>
<rect x="157" y="153" width="3" height="11" fill="#ff0000"/>
<rect x="158" y="154" width="1" height="9" fill="#ff4500"/>
<rect x="162" y="124" width="1" height="36" fill="#ff0000"/>
<rect x="161" y="127" width="3" height="27" fill="#ff0000"/>
<rect x="162" y="128" width="1" height="25" fill="#ff4500"/>
<rect x="166" y="110" width="1" height="27" fill="#ff0000"/>
<rect x="165" y="112" width="3" height="15" fill="#ff0000"/>
<rect x="166" y="113" width="1" height="13" fill="#ff4500"/>
<rect x="170" y="120" width="1" height="18" fill="#ff0000"/>
<rect x="169" y="121" width="3" height="17" fill="#ff0000"/>
<rect x="170" y="122" width="1" height="15" fill="#ff4500"/>
<rect x="174" y="119" width="1" height="7" fill="#ff0000"/>
<rect x="173" y="121" width="3" height="2" fill="#ff0000"/>
<rect x="178" y="114" width="1" height="17" fill="#ff0000"/>
<rect x="177" y="118" width="3" height="3" fill="#ff0000"/>
<rect x="178" y="119" width="1" height="1" fill="#ff4500"/>
<rect x="182" y="114" width="1" height="10" fill="#22c522"/>
<rect x="181" y="118" width="3" height="4" fill="#22c522"/>
<rect x="182" y="119" width="1" height="2" fill="#32cd32"/>
<rect x="186" y="112" width="1" height="16" fill="#ff0000"/>
<rect x="185" y="114" width="3" height="6" fill="#ff0000"/>
<rect x="186" y="115" width="1" height="4" fill="#ff4500"/>
<rect x="190" y="112" width="1" height="21" fill="#22c522"/>
<rect x="189" y="114" width="3" height="11" fill="#22c522"/>
<rect x="190" y="115" width="1" height="9" fill="#32cd32"/>
<rect x="194" y="114" width="1" height="11" fill="#ff0000"/>
<rect x="193" y="118" width="3" height="7" fill="#ff0000"/>
<rect x="194" y="119" width="1" height="5" fill="#ff4500"/>
<rect x="198" y="114" width="1" height="10" fill="#22c522"/>
<rect x="197" y="118" width="3" height="6" fill="#22c522"/>
<rect x="198" y="119" width="1" height="4" fill="#32cd32"/>
<rect x="202" y="114" width="1" height="16" fill="#ff0000"/>
<rect x="201" y="120" width="3" height="4" fill="#ff0000"/>
<rect x="202" y="121" width="1" height="2" fill="#ff4500"/>
<rect x="206" y="112" width="1" height="28" fill="#22c522"/>
<rect x="205" y="120" width="3" height="7" fill="#22c522"/>
<rect x="206" y="121" width="1" height="5" fill="#32cd32"/>
<rect x="210" y="124" width="1" height="9" fill="#ff0000"/>
<rect x="209" y="124" width="3" height="3" fill="#ff0000"/>
<rect x="210" y="125" width="1" height="1" fill="#ff4500"/>
<rect x="214" y="121" width="1" height="12" fill="#22c522"/>
<rect x="213" y="124" width="3" height="7" fill="#22c522"/>
<rect x="214" y="125" width="1" height="5" fill="#32cd32"/>
<rect x="218" y="112" width="1" height="57" fill="#22c522"/>
<rect x="217" y="130" width="3" height="16" fill="#22c522"/>
<rect x="218" y="131" width="1" height="14" fill="#32cd32"/>
<rect x="222" y="141" width="1" height="27" fill="#ff0000"/>
<rect x="221" y="143" width="3" height="4" fill="#ff0000"/>
<rect x="222" y="144" width="1" height="2" fill="#ff4500"/>
<rect x="226" y="142" width="1" height="59" fill="#22c522"/>
<rect x="225" y="144" width="3" height="56" fill="#22c522"/>
<rect x="226" y="145" width="1" height="54" fill="#32cd32"/>
<rect x="230" y="172" width="1" height="29" fill="#ff0000"/>
<rect x="229" y="178" width="3" height="22" fill="#ff0000"/>
<rect x="230" y="179" width="1" height="20" fill="#ff4500"/>
<rect x="234" y="162" width="1" height="23" fill="#ff0000"/>
<rect x="233" y="163" width="3" height="16" fill="#ff0000"/>
<rect x="234" y="164" width="1" height="14" fill="#ff4500"/>
<rect x="238" y="147" width="1" height="22" fill="#ff0000"/>
<rect x="237" y="155" width="3" height="9" fill="#ff0000"/>
<rect x="238" y="156" width="1" height="7" fill="#ff4500"/>
<rect x="242" y="134" width="1" height="23" fill="#ff0000"/>
<rect x="241" y="136" width="3" height="20" fill="#ff0000"/>
<rect x="242" y="137" width="1" height="18" fill="#ff4500"/>
<rect x="246" y="133" width="1" height="13" fill="#22c522"/>
<rect x="245" y="136" width="3" height="7" fill="#22c522"/>
<rect x="246" y="137" width="1" height="5" fill="#32cd32"/>
<rect x="250" y="131" width="1" height="22" fill="#ff0000"/>
<rect x="249" y="136" width="3" height="7" fill="#ff0000"/>
<rect x="250" y="137" width="1" height="5" fill="#ff4500"/>
<rect x="254" y="127" width="1" height="17" fill="#ff0000"/>
<rect x="253" y="134" width="3" height="3" fill="#ff0000"/>
<rect x="254" y="135" width="1" height="1" fill="#ff4500"/>
<rect x="258" y="130" width="1" height="11" fill="#22c522"/>
<rect x="257" y="134" width="3" height="3" fill="#22c522"/>
<rect x="258" y="135" width="1" height="1" fill="#32cd32"/>
<rect x="262" y="96" width="1" height="40" fill="#ff0000"/>
<rect x="261" y="98" width="3" height="38" fill="#ff0000"/>
<rect x="262" y="99" width="1" height="36" fill="#ff4500"/>
<rect x="266" y="96" width="1" height="16" fill="#22c522"/>
<rect x="265" y="98" width="3" height="1" fill="#22c522"/>
<rect x="270" y="87" width="1" height="15" fill="#ff0000"/>
<rect x="269" y="90" width="3" height="9" fill="#ff0000"/>
<rect x="270" y="91" width="1" height="7" fill="#ff4500"/>
<rect x="274" y="83" width="1" height="27" fill="#22c522"/>
<rect x="273" y="90" width="3" height="19" fill="#22c522"/>
<rect x="274" y="91" width="1" height="17" fill="#32cd32"/>
<rect x="278" y="92" width="1" height="20" fill="#ff0000"/>
<rect x="277" y="99" width="3" height="10" fill="#ff0000"/>
<rect x="278" y="100" width="1" height="8" fill="#ff4500"/>
<rect x="282" y="98" width="1" height="22" fill="#22c522"/>
<rect x="281" y="99" width="3" height="17" fill="#22c522"/>
<rect x="282" y="100" width="1" height="15" fill="#32cd32"/>
<rect x="286" y="97" width="1" height="23" fill="#ff0000"/>
<rect x="285" y="109" width="3" height="7" fill="#ff0000"/>
<rect x="286" y="110" width="1" height="5" fill="#ff4500"/>
<rect x="290" y="104" width="1" height="9" fill="#ff0000"/>
<rect x="289" y="108" width="3" height="3" fill="#ff0000"/>
<rect x="290" y="109" width="1" height="1" fill="#ff4500"/>
<rect x="294" y="76" width="1" height="33" fill="#ff0000"/>
<rect x="293" y="76" width="3" height="33" fill="#ff0000"/>
<rect x="294" y="77" width="1" height="31" fill="#ff4500"/>
<rect x="298" y="67" width="1" height="20" fill="#ff0000"/>
<rect x="297" y="72" width="3" height="6" fill="#ff0000"/>
<rect x="298" y="73" width="1" height="4" fill="#ff4500"/>
<rect x="302" y="65" width="1" height="24" fill="#22c522"/>
<rect x="301" y="72" width="3" height="4" fill="#22c522"/>
<rect x="302" y="73" width="1" height="2" fill="#32cd32"/>
<rect x="306" y="73" width="1" height="10" fill="#22c522"/>
<rect x="305" y="74" width="3" height="6" fill="#22c522"/>
<rect x="306" y="75" width="1" height="4" fill="#32cd32"/>
<rect x="310" y="71" width="1" height="19" fill="#ff0000"/>
<rect x="309" y="72" width="3" height="8" fill="#ff0000"/>
<rect x="310" y="73" width="1" height="6" fill="#ff4500"/>
<rect x="314" y="60" width="1" height="16" fill="#ff0000"/>
<rect x="313" y="69" width="3" height="3" fill="#ff0000"/>
<rect x="314" y="70" width="1" height="1" fill="#ff4500"/>
<rect x="318" y="64" width="1" height="10" fill="#22c522"/>
<rect x="317" y="69" width="3" height="3" fill="#22c522"/>
<rect x="318" y="70" width="1" height="1" fill="#32cd32"/>
<rect x="322" y="45" width="1" height="30" fill="#ff0000"/>
<rect x="321" y="61" width="3" height="10" fill="#ff0000"/>
<rect x="322" y="62" width="1" height="8" fill="#ff4500"/>
<rect x="326" y="58" width="1" height="24" fill="#22c522"/>
<rect x="325" y="61" width="3" height="8" fill="#22c522"/>
<rect x="326" y="62" width="1" height="6" fill="#32cd32"/>
<rect x="330" y="69" width="1" height="20" fill="#22c522"/>
<rect x="329" y="69" width="3" height="14" fill="#22c522"/>
<rect x="330" y="70" width="1" height="12" fill="#32cd32"/>
<rect x="334" y="69" width="1" height="21" fill="#22c522"/>
<rect x="333" y="80" width="3" height="5" fill="#22c522"/>
<rect x="334" y="81" width="1" height="3" fill="#32cd32"/>
<rect x="338" y="83" width="1" height="25" fill="#22c522"/>
<rect x="337" y="84" width="3" height="16" fill="#22c522"/>
<rect x="338" y="85" width="1" height="14" fill="#32cd32"/>
<rect x="342" y="91" width="1" height="13" fill="#22c522"/>
<rect x="341" y="99" width="3" height="1" fill="#22c522"/>
<rect x="346" y="67" width="1" height="33" fill="#ff0000"/>
<rect x="345" y="69" width="3" height="31" fill="#ff0000"/>
<rect x="346" y="70" width="1" height="29" fill="#ff4500"/>
<rect x="350" y="67" width="1" height="33" fill="#22c522"/>
<rect x="349" y="69" width="3" height="29" fill="#22c522"/>
<rect x="350" y="70" width="1" height="27" fill="#32cd32"/>
<rect x="354" y="86" width="1" height="16" fill="#ff0000"/>
<rect x="353" y="90" width="3" height="8" fill="#ff0000"/>
<rect x="354" y="91" width="1" height="6" fill="#ff4500"/>
<rect x="358" y="84" width="1" height="38" fill="#22c522"/>
<rect x="357" y="89" width="3" height="31" fill="#22c522"/>
<rect x="358" y="90" width="1" height="29" fill="#32cd32"/>
<rect x="362" y="94" width="1" height="27" fill="#ff0000"/>
<rect x="361" y="101" width="3" height="17" fill="#ff0000"/>
<rect x="362" y="102" width="1" height="15" fill="#ff4500"/>
<rect x="366" y="100" width="1" height="15" fill="#22c522"/>
<rect x="365" y="101" width="3" height="12" fill="#22c522"/>
<rect x="366" y="102" width="1" height="10" fill="#32cd32"/>
<rect x="370" y="90" width="1" height="35" fill="#ff0000"/>
<rect x="369" y="101" width="3" height="12" fill="#ff0000"/>
<rect x="370" y="102" width="1" height="10" fill="#ff4500"/>
<rect x="374" y="100" width="1" height="23" fill="#22c522"/>
<rect x="373" y="101" width="3" height="13" fill="#22c522"/>
<rect x="374" y="102" width="1" height="11" fill="#32cd32"/>
<rect x="378" y="103" width="1" height="27" fill="#ff0000"/>
<rect x="377" y="105" width="3" height="9" fill="#ff0000"/>
<rect x="378" y="106" width="1" height="7" fill="#ff4500"/>
<rect x="382" y="89" width="1" height="27" fill="#22c522"/>
<rect x="381" y="104" width="3" height="6" fill="#22c522"/>
<rect x="382" y="105" width="1" height="4" fill="#32cd32"/>
<rect x="386" y="91" width="1" height="23" fill="#ff0000"/>
<rect x="385" y="103" width="3" height="7" fill="#ff0000"/>
<rect x="386" y="104" width="1" height="5" fill="#ff4500"/>
<rect x="390" y="97" width="1" height="14" fill="#22c522"/>
<rect x="389" y="103" width="3" height="5" fill="#22c522"/>
<rect x="390" y="104" width="1" height="3" fill="#32cd32"/>
<rect x="394" y="89" width="1" height="24" fill="#ff0000"/>
<rect x="393" y="90" width="3" height="18" fill="#ff0000"/>
<rect x="394" y="91" width="1" height="16" fill="#ff4500"/>
<rect x="398" y="81" width="1" height="72" fill="#22c522"/>
<rect x="397" y="90" width="3" height="52" fill="#22c522"/>
<rect x="398" y="91" width="1" height="50" fill="#32cd32"/>
<rect x="402" y="134" width="1" height="11" fill="#ff0000"/>
<rect x="401" y="135" width="3" height="7" fill="#ff0000"/>
<rect x="402" y="136" width="1" height="5" fill="#ff4500"/>
<rect x="406" y="133" width="1" height="34" fill="#22c522"/>
<rect x="405" y="136" width="3" height="26" fill="#22c522"/>
<rect x="406" y="137" width="1" height="24" fill="#32cd32"/>
<rect x="410" y="158" width="1" height="12" fill="#ff0000"/>
<rect x="409" y="159" width="3" height="9" fill="#ff0000"/>
<rect x="410" y="160" width="1" height="7" fill="#ff4500"/>
<rect x="414" y="152" width="1" height="10" fill="#ff0000"/>
<rect x="413" y="157" width="3" height="4" fill="#ff0000"/>
<rect x="414" y="158" width="1" height="2" fill="#ff4500"/>
<rect x="418" y="156" width="1" height="40" fill="#22c522"/>
<rect x="417" y="157" width="3" height="29" fill="#22c522"/>
<rect x="418" y="158" width="1" height="27" fill="#32cd32"/>
<rect x="422" y="180" width="1" height="18" fill="#22c522"/>
<rect x="421" y="185" width="3" height="10" fill="#22c522"/>
<rect x="422" y="186" width="1" height="8" fill="#32cd32"/>
<rect x="426" y="194" width="1" height="29" fill="#22c522"/>
<rect x="425" y="194" width="3" height="18" fill="#22c522"/>
<rect x="426" y="195" width="1" height="16" fill="#32cd32"/>
<rect x="430" y="207" width="1" height="19" fill="#22c522"/>
<rect x="429" y="211" width="3" height="4" fill="#22c522"/>
<rect x="430" y="212" width="1" height="2" fill="#32cd32"/>
<rect x="434" y="211" width="1" height="16" fill="#22c522"/>
<rect x="433" y="214" width="3" height="12" fill="#22c522"/>
<rect x="434" y="215" width="1" height="10" fill="#32cd32"/>
<rect x="438" y="218" width="1" height="12" fill="#ff0000"/>
<rect x="437" y="223" width="3" height="2" fill="#ff0000"/>
<rect x="442" y="217" width="1" height="21" fill="#ff0000"/>
<rect x="441" y="222" width="3" height="2" fill="#ff0000"/>
<rect x="446" y="208" width="1" height="26" fill="#ff0000"/>
<rect x="445" y="217" width="3" height="6" fill="#ff0000"/>
<rect x="446" y="218" width="1" height="4" fill="#ff4500"/>
<rect x="450" y="204" width="1" height="15" fill="#ff0000"/>
<rect x="449" y="214" width="3" height="4" fill="#ff0000"/>
<rect x="450" y="215" width="1" height="2" fill="#ff4500"/>
<rect x="454" y="195" width="1" height="21" fill="#ff0000"/>
<rect x="453" y="204" width="3" height="11" fill="#ff0000"/>
<rect x="454" y="205" width="1" height="9" fill="#ff4500"/>
<rect x="458" y="198" width="1" height="9" fill="#22c522"/>
<rect x="457" y="203" width="3" height="3" fill="#22c522"/>
<rect x="458" y="204" width="1" height="1" fill="#32cd32"/>
<rect x="462" y="200" width="1" height="18" fill="#22c522"/>
<rect x="461" y="204" width="3" height="8" fill="#22c522"/>
<rect x="462" y="205" width="1" height="6" fill="#32cd32"/>
<rect x="466" y="197" width="1" height="19" fill="#ff0000"/>
<rect x="465" y="198" width="3" height="14" fill="#ff0000"/>
<rect x="466" y="199" width="1" height="12" fill="#ff4500"/>
<rect x="470" y="197" width="1" height="25" fill="#22c522"/>
<rect x="469" y="198" width="3" height="2" fill="#22c522"/>
<rect x="474" y="198" width="1" height="17" fill="#ff0000"/>
<rect x="473" y="199" width="3" height="1" fill="#ff0000"/>
<rect x="478" y="195" width="1" height="17" fill="#22c522"/>
<rect x="477" y="198" width="3" height="10" fill="#22c522"/>
<rect x="478" y="199" width="1" height="8" fill="#32cd32"/>
<rect x="482" y="204" width="1" height="11" fill="#22c522"/>
<rect x="481" y="207" width="3" height="5" fill="#22c522"/>
<rect x="482" y="208" width="1" height="3" fill="#32cd32"/>
<rect x="486" y="207" width="1" height="12" fill="#22c522"/>
<rect x="485" y="211" width="3" height="4" fill="#22c522"/>
<rect x="486" y="212" width="1" height="2" fill="#32cd32"/>
<rect x="490" y="207" width="1" height="21" fill="#ff0000"/>
<rect x="489" y="208" width="3" height="7" fill="#ff0000"/>
<rect x="490" y="209" width="1" height="5" fill="#ff4500"/>
<rect x="494" y="197" width="1" height="17" fill="#ff0000"/>
<rect x="493" y="204" width="3" height="4" fill="#ff0000"/>
<rect x="494" y="205" width="1" height="2" fill="#ff4500"/>
<rect x="498" y="198" width="1" height="10" fill="#22c522"/>
<rect x="497" y="204" width="3" height="1" fill="#22c522"/>
<rect x="502" y="197" width="1" height="17" fill="#22c522"/>
<rect x="501" y="204" width="3" height="7" fill="#22c522"/>
<rect x="502" y="205" width="1" height="5" fill="#32cd32"/>
<rect x="506" y="200" width="1" height="14" fill="#22c522"/>
<rect x="505" y="210" width="3" height="1" fill="#22c522"/>
<rect x="510" y="206" width="1" height="10" fill="#ff0000"/>
<rect x="509" y="208" width="3" height="4" fill="#ff0000"/>
<rect x="510" y="209" width="1" height="2" fill="#ff4500"/>
<rect x="514" y="183" width="1" height="34" fill="#ff0000"/>
<rect x="513" y="185" width="3" height="24" fill="#ff0000"/>
<rect x="514" y="186" width="1" height="22" fill="#ff4500"/>
<rect x="518" y="176" width="1" height="21" fill="#ff0000"/>
<rect x="517" y="183" width="3" height="3" fill="#ff0000"/>
<rect x="518" y="184" width="1" height="1" fill="#ff4500"/>
<rect x="522" y="180" width="1" height="12" fill="#ff0000"/>
<rect x="521" y="180" width="3" height="3" fill="#ff0000"/>
<rect x="522" y="181" width="1" height="1" fill="#ff4500"/>
<rect x="526" y="176" width="1" height="8" fill="#22c522"/>
<rect x="525" y="180" width="3" height="1" fill="#22c522"/>
<rect x="530" y="172" width="1" height="16" fill="#ff0000"/>
<rect x="529" y="172" width="3" height="14" fill="#ff0000"/>
<rect x="530" y="173" width="1" height="12" fill="#ff4500"/>
<rect x="534" y="172" width="1" height="17" fill="#22c522"/>
<rect x="533" y="173" width="3" height="13" fill="#22c522"/>
<rect x="534" y="174" width="1" height="11" fill="#32cd32"/>
<rect x="538" y="182" width="1" height="17" fill="#22c522"/>
<rect x="537" y="185" width="3" height="3" fill="#22c522"/>
<rect x="538" y="186" width="1" height="1" fill="#32cd32"/>
<rect x="542" y="169" width="1" height="21" fill="#ff0000"/>
<rect x="541" y="169" width="3" height="19" fill="#ff0000"/>
<rect x="542" y="170" width="1" height="17" fill="#ff4500"/>
<rect x="546" y="164" width="1" height="8" fill="#ff0000"/>
<rect x="545" y="169" width="3" height="1" fill="#ff0000"/>
<rect x="550" y="165" width="1" height="15" fill="#ff0000"/>
<rect x="549" y="166" width="3" height="4" fill="#ff0000"/>
<rect x="550" y="167" width="1" height="2" fill="#ff4500"/>
<rect x="554" y="166" width="1" height="14" fill="#22c522"/>
<rect x="553" y="167" width="3" height="5" fill="#22c522"/>
<rect x="554" y="168" width="1" height="3" fill="#32cd32"/>
<rect x="558" y="168" width="1" height="13" fill="#ff0000"/>
<rect x="557" y="170" width="3" height="2" fill="#ff0000"/>
<rect x="562" y="155" width="1" height="18" fill="#ff0000"/>
<rect x="561" y="161" width="3" height="9" fill="#ff0000"/>
<rect x="562" y="162" width="1" height="7" fill="#ff4500"/>
<rect x="566" y="160" width="1" height="20" fill="#22c522"/>
<rect x="565" y="161" width="3" height="3" fill="#22c522"/>
<rect x="566" y="162" width="1" height="1" fill="#32cd32"/>
<rect x="570" y="161" width="1" height="13" fill="#22c522"/>
<rect x="569" y="163" width="3" height="5" fill="#22c522"/>
<rect x="570" y="164" width="1" height="3" fill="#32cd32"/>
<rect x="574" y="157" width="1" height="19" fill="#22c522"/>
<rect x="573" y="167" width="3" height="4" fill="#22c522"/>
<rect x="574" y="168" width="1" height="2" fill="#32cd32"/>
<rect x="578" y="164" width="1" height="12" fill="#ff0000"/>
<rect x="577" y="165" width="3" height="6" fill="#ff0000"/>
<rect x="578" y="166" width="1" height="4" fill="#ff4500"/>
<rect x="582" y="163" width="1" height="7" fill="#22c522"/>
<rect x="581" y="165" width="3" height="4" fill="#22c522"/>
<rect x="582" y="166" width="1" height="2" fill="#32cd32"/>
<rect x="586" y="156" width="1" height="18" fill="#22c522"/>
<rect x="585" y="169" width="3" height="3" fill="#22c522"/>
<rect x="586" y="170" width="1" height="1" fill="#32cd32"/>
<rect x="590" y="162" width="1" height="14" fill="#ff0000"/>
<rect x="589" y="166" width="3" height="8" fill="#ff0000"/>
<rect x="590" y="167" width="1" height="6" fill="#ff4500"/>
<rect x="594" y="153" width="1" height="15" fill="#ff0000"/>
<rect x="593" y="155" width="3" height="12" fill="#ff0000"/>
<rect x="594" y="156" width="1" height="10" fill="#ff4500"/>
<rect x="598" y="154" width="1" height="70" fill="#22c522"/>
<rect x="597" y="155" width="3" height="65" fill="#22c522"/>
<rect x="598" y="156" width="1" height="63" fill="#32cd32"/>
<rect x="602" y="214" width="1" height="10" fill="#22c522"/>
<rect x="601" y="220" width="3" height="2" fill="#22c522"/>
<rect x="606" y="220" width="1" height="12" fill="#ff0000"/>
<rect x="605" y="220" width="3" height="2" fill="#ff0000"/>
<rect x="610" y="191" width="1" height="39" fill="#ff0000"/>
<rect x="609" y="191" width="3" height="31" fill="#ff0000"/>
<rect x="610" y="192" width="1" height="29" fill="#ff4500"/>
<rect x="614" y="181" width="1" height="32" fill="#22c522"/>
<rect x="613" y="192" width="3" height="2" fill="#22c522"/>
<rect x="618" y="182" width="1" height="13" fill="#22c522"/>
<rect x="617" y="193" width="3" height="1" fill="#22c522"/>
<rect x="622" y="180" width="1" height="19" fill="#ff0000"/>
<rect x="621" y="190" width="3" height="4" fill="#ff0000"/>
<rect x="622" y="191" width="1" height="2" fill="#ff4500"/>
<rect x="626" y="188" width="1" height="17" fill="#22c522"/>
<rect x="625" y="190" width="3" height="7" fill="#22c522"/>
<rect x="626" y="191" width="1" height="5" fill="#32cd32"/>
<rect x="630" y="185" width="1" height="13" fill="#ff0000"/>
<rect x="629" y="187" width="3" height="10" fill="#ff0000"/>
<rect x="630" y="188" width="1" height="8" fill="#ff4500"/>
<rect x="634" y="184" width="1" height="18" fill="#ff0000"/>
<rect x="633" y="186" width="3" height="2" fill="#ff0000"/>
<rect x="638" y="162" width="1" height="26" fill="#ff0000"/>
<rect x="637" y="165" width="3" height="22" fill="#ff0000"/>
<rect x="638" y="166" width="1" height="20" fill="#ff4500"/>
<rect x="642" y="155" width="1" height="19" fill="#22c522"/>
<rect x="641" y="165" width="3" height="2" fill="#22c522"/>
<rect x="646" y="158" width="1" height="16" fill="#ff0000"/>
<rect x="645" y="161" width="3" height="6" fill="#ff0000"/>
<rect x="646" y="162" width="1" height="4" fill="#ff4500"/>
<rect x="650" y="163" width="1" height="18" fill="#22c522"/>
<rect x="649" y="165" width="3" height="15" fill="#22c522"/>
<rect x="650" y="166" width="1" height="13" fill="#32cd32"/>
<rect x="654" y="175" width="1" height="10" fill="#ff0000"/>
<rect x="653" y="178" width="3" height="2" fill="#ff0000"/>
<rect x="658" y="167" width="1" height="24" fill="#ff0000"/>
<rect x="657" y="167" width="3" height="12" fill="#ff0000"/>
<rect x="658" y="168" width="1" height="10" fill="#ff4500"/>
<rect x="662" y="162" width="1" height="23" fill="#22c522"/>
<rect x="661" y="167" width="3" height="15" fill="#22c522"/>
<rect x="662" y="168" width="1" height="13" fill="#32cd32"/>
<rect x="666" y="173" width="1" height="17" fill="#ff0000"/>
<rect x="665" y="174" width="3" height="6" fill="#ff0000"/>
<rect x="666" y="175" width="1" height="4" fill="#ff4500"/>
<rect x="670" y="167" width="1" height="18" fill="#ff0000"/>
<rect x="669" y="168" width="3" height="7" fill="#ff0000"/>
<rect x="670" y="169" width="1" height="5" fill="#ff4500"/>
<rect x="674" y="167" width="1" height="23" fill="#22c522"/>
<rect x="673" y="168" width="3" height="21" fill="#22c522"/>
<rect x="674" y="169" width="1" height="19" fill="#32cd32"/>
<rect x="678" y="186" width="1" height="12" fill="#22c522"/>
<rect x="677" y="187" width="3" height="8" fill="#22c522"/>
<rect x="678" y="188" width="1" height="6" fill="#32cd32"/>
<rect x="682" y="190" width="1" height="30" fill="#22c522"/>
<rect x="681" y="194" width="3" height="14" fill="#22c522"/>
<rect x="682" y="195" width="1" height="12" fill="#32cd32"/>
<rect x="686" y="191" width="1" height="25" fill="#ff0000"/>
<rect x="685" y="197" width="3" height="11" fill="#ff0000"/>
<rect x="686" y="198" width="1" height="9" fill="#ff4500"/>
<rect x="690" y="181" width="1" height="19" fill="#ff0000"/>
<rect x="689" y="183" width="3" height="16" fill="#ff0000"/>
<rect x="690" y="184" width="1" height="14" fill="#ff4500"/>
<rect x="694" y="166" width="1" height="21" fill="#ff0000"/>
<rect x="693" y="180" width="3" height="4" fill="#ff0000"/>
<rect x="694" y="181" width="1" height="2" fill="#ff4500"/>
<rect x="698" y="165" width="1" height="18" fill="#ff0000"/>
<rect x="697" y="166" width="3" height="16" fill="#ff0000"/>
<rect x="698" y="167" width="1" height="14" fill="#ff4500"/>
<rect x="702" y="154" width="1" height="15" fill="#ff0000"/>
<rect x="701" y="164" width="3" height="3" fill="#ff0000"/>
<rect x="702" y="165" width="1" height="1" fill="#ff4500"/>
<rect x="706" y="157" width="1" height="24" fill="#22c522"/>
<rect x="705" y="164" width="3" height="12" fill="#22c522"/>
<rect x="706" y="165" width="1" height="10" fill="#32cd32"/>
<rect x="710" y="159" width="1" height="26" fill="#ff0000"/>
<rect x="709" y="160" width="3" height="16" fill="#ff0000"/>
<rect x="710" y="161" width="1" height="14" fill="#ff4500"/>
<rect x="714" y="151" width="1" height="24" fill="#22c522"/>
<rect x="713" y="160" width="3" height="14" fill="#22c522"/>
<rect x="714" y="161" width="1" height="12" fill="#32cd32"/>
<rect x="718" y="172" width="1" height="13" fill="#22c522"/>
<rect x="717" y="173" width="3" height="6" fill="#22c522"/>
<rect x="718" y="174" width="1" height="4" fill="#32cd32"/>
<rect x="722" y="176" width="1" height="16" fill="#22c522"/>
<rect x="721" y="178" width="3" height="10" fill="#22c522"/>
<rect x="722" y="179" width="1" height="8" fill="#32cd32"/>
<rect x="726" y="179" width="1" height="17" fill="#ff0000"/>
<rect x="725" y="181" width="3" height="7" fill="#ff0000"/>
<rect x="726" y="182" width="1" height="5" fill="#ff4500"/>
<rect x="730" y="167" width="1" height="20" fill="#ff0000"/>
<rect x="729" y="174" width="3" height="8" fill="#ff0000"/>
<rect x="730" y="175" width="1" height="6" fill="#ff4500"/>
<rect x="734" y="173" width="1" height="70" fill="#22c522"/>
<rect x="733" y="174" width="3" height="67" fill="#22c522"/>
<rect x="734" y="175" width="1" height="65" fill="#32cd32"/>
<rect x="738" y="229" width="1" height="23" fill="#ff0000"/>
<rect x="737" y="229" width="3" height="11" fill="#ff0000"/>
<rect x="738" y="230" width="1" height="9" fill="#ff4500"/>
<rect x="742" y="216" width="1" height="18" fill="#ff0000"/>
<rect x="741" y="219" width="3" height="12" fill="#ff0000"/>
<rect x="742" y="220" width="1" height="10" fill="#ff4500"/>
<rect x="746" y="212" width="1" height="17" fill="#22c522"/>
<rect x="745" y="219" width="3" height="3" fill="#22c522"/>
<rect x="746" y="220" width="1" height="1" fill="#32cd32"/>
<rect x="750" y="220" width="1" height="9" fill="#22c522"/>
<rect x="749" y="222" width="3" height="1" fill="#22c522"/>
<rect x="754" y="208" width="1" height="18" fill="#ff0000"/>
<rect x="753" y="213" width="3" height="11" fill="#ff0000"/>
<rect x="754" y="214" width="1" height="9" fill="#ff4500"/>
<rect x="758" y="211" width="1" height="32" fill="#22c522"/>
<rect x="757" y="213" width="3" height="13" fill="#22c522"/>
<rect x="758" y="214" width="1" height="11" fill="#32cd32"/>
<rect x="762" y="220" width="1" height="13" fill="#22c522"/>
<rect x="761" y="225" width="3" height="5" fill="#22c522"/>
<rect x="762" y="226" width="1" height="3" fill="#32cd32"/>
<rect x="766" y="226" width="1" height="30" fill="#22c522"/>
<rect x="765" y="230" width="3" height="24" fill="#22c522"/>
<rect x="766" y="231" width="1" height="22" fill="#32cd32"/>
<rect x="770" y="239" width="1" height="34" fill="#22c522"/>
<rect x="769" y="244" width="3" height="25" fill="#22c522"/>
<rect x="770" y="245" width="1" height="23" fill="#32cd32"/>
<rect x="774" y="258" width="1" height="12" fill="#ff0000"/>
<rect x="773" y="258" width="3" height="11" fill="#ff0000"/>
<rect x="774" y="259" width="1" height="9" fill="#ff4500"/>
<rect x="778" y="244" width="1" height="20" fill="#ff0000"/>
<rect x="777" y="247" width="3" height="13" fill="#ff0000"/>
<rect x="778" y="248" width="1" height="11" fill="#ff4500"/>
<rect x="782" y="241" width="1" height="23" fill="#22c522"/>
<rect x="781" y="247" width="3" height="10" fill="#22c522"/>
<rect x="782" y="248" width="1" height="8" fill="#32cd32"/>
<rect x="786" y="249" width="1" height="26" fill="#ff0000"/>
<rect x="785" y="254" width="3" height="3" fill="#ff0000"/>
<rect x="786" y="255" width="1" height="1" fill="#ff4500"/>
<rect x="790" y="242" width="1" height="20" fill="#ff0000"/>
<rect x="789" y="249" width="3" height="6" fill="#ff0000"/>
<rect x="790" y="250" width="1" height="4" fill="#ff4500"/>
<rect x="794" y="243" width="1" height="17" fill="#22c522"/>
<rect x="793" y="249" width="3" height="7" fill="#22c522"/>
<rect x="794" y="250" width="1" height="5" fill="#32cd32"/>
<rect x="798" y="252" width="1" height="10" fill="#ff0000"/>
<rect x="797" y="254" width="3" height="2" fill="#ff0000"/>
<rect x="802" y="252" width="1" height="28" fill="#22c522"/>
<rect x="801" y="255" width="3" height="15" fill="#22c522"/>
<rect x="802" y="256" width="1" height="13" fill="#32cd32"/>
<rect x="806" y="237" width="1" height="34" fill="#ff0000"/>
<rect x="805" y="243" width="3" height="27" fill="#ff0000"/>
<rect x="806" y="244" width="1" height="25" fill="#ff4500"/>
<rect x="810" y="228" width="1" height="17" fill="#ff0000"/>
<rect x="809" y="228" width="3" height="16" fill="#ff0000"/>
<rect x="810" y="229" width="1" height="14" fill="#ff4500"/>
<rect x="814" y="212" width="1" height="20" fill="#ff0000"/>
<rect x="813" y="222" width="3" height="7" fill="#ff0000"/>
<rect x="814" y="223" width="1" height="5" fill="#ff4500"/>
<rect x="818" y="217" width="1" height="11" fill="#22c522"/>
<rect x="817" y="222" width="3" height="1" fill="#22c522"/>
<rect x="822" y="218" width="1" height="11" fill="#ff0000"/>
<rect x="821" y="219" width="3" height="5" fill="#ff0000"/>
<rect x="822" y="220" width="1" height="3" fill="#ff4500"/>
<rect x="826" y="209" width="1" height="18" fill="#ff0000"/>
<rect x="825" y="209" width="3" height="10" fill="#ff0000"/>
<rect x="826" y="210" width="1" height="8" fill="#ff4500"/>
<rect x="830" y="189" width="1" height="34" fill="#22c522"/>
<rect x="829" y="209" width="3" height="10" fill="#22c522"/>
<rect x="830" y="210" width="1" height="8" fill="#32cd32"/>
<rect x="834" y="216" width="1" height="17" fill="#22c522"/>
<rect x="833" y="219" width="3" height="8" fill="#22c522"/>
<rect x="834" y="220" width="1" height="6" fill="#32cd32"/>
<rect x="838" y="219" width="1" height="17" fill="#ff0000"/>
<rect x="837" y="221" width="3" height="6" fill="#ff0000"/>
<rect x="838" y="222" width="1" height="4" fill="#ff4500"/>
<rect x="842" y="212" width="1" height="16" fill="#ff0000"/>
<rect x="841" y="213" width="3" height="9" fill="#ff0000"/>
<rect x="842" y="214" width="1" height="7" fill="#ff4500"/>
<rect x="846" y="210" width="1" height="8" fill="#22c522"/>
<rect x="845" y="213" width="3" height="3" fill="#22c522"/>
<rect x="846" y="214" width="1" height="1" fill="#32cd32"/>
<rect x="850" y="214" width="1" height="21" fill="#22c522"/>
<rect x="849" y="215" width="3" height="13" fill="#22c522"/>
<rect x="850" y="216" width="1" height="11" fill="#32cd32"/>
<rect x="854" y="207" width="1" height="30" fill="#ff0000"/>
<rect x="853" y="214" width="3" height="14" fill="#ff0000"/>
<rect x="854" y="215" width="1" height="12" fill="#ff4500"/>
<rect x="858" y="199" width="1" height="19" fill="#22c522"/>
<rect x="857" y="214" width="3" height="3" fill="#22c522"/>
<rect x="858" y="215" width="1" height="1" fill="#32cd32"/>
<rect x="862" y="208" width="1" height="13" fill="#22c522"/>
<rect x="861" y="215" width="3" height="3" fill="#22c522"/>
<rect x="862" y="216" width="1" height="1" fill="#32cd32"/>
<rect x="866" y="210" width="1" height="14" fill="#ff0000"/>
<rect x="865" y="211" width="3" height="7" fill="#ff0000"/>
<rect x="866" y="212" width="1" height="5" fill="#ff4500"/>
<rect x="870" y="202" width="1" height="12" fill="#ff0000"/>
<rect x="869" y="206" width="3" height="6" fill="#ff0000"/>
<rect x="870" y="207" width="1" height="4" fill="#ff4500"/>
<rect x="874" y="179" width="1" height="34" fill="#ff0000"/>
<rect x="873" y="189" width="3" height="17" fill="#ff0000"/>
<rect x="874" y="190" width="1" height="15" fill="#ff4500"/>
<rect x="878" y="173" width="1" height="21" fill="#ff0000"/>
<rect x="877" y="180" width="3" height="9" fill="#ff0000"/>
<rect x="878" y="181" width="1" height="7" fill="#ff4500"/>
<rect x="882" y="176" width="1" height="15" fill="#22c522"/>
<rect x="881" y="180" width="3" height="10" fill="#22c522"/>
<rect x="882" y="181" width="1" height="8" fill="#32cd32"/>
<rect x="886" y="176" width="1" height="16" fill="#ff0000"/>
<rect x="885" y="176" width="3" height="14" fill="#ff0000"/>
<rect x="886" y="177" width="1" height="12" fill="#ff4500"/>
<rect x="890" y="175" width="1" height="12" fill="#ff0000"/>
<rect x="889" y="178" width="3" height="7" fill="#ff0000"/>
<rect x="890" y="179" width="1" height="5" fill="#ff4500"/>
<rect x="894" y="174" width="1" height="9" fill="#22c522"/>
<rect x="893" y="179" width="3" height="1" fill="#22c522"/>
<rect x="898" y="179" width="1" height="23" fill="#22c522"/>
<rect x="897" y="181" width="3" height="19" fill="#22c522"/>
<rect x="898" y="182" width="1" height="17" fill="#32cd32"/>
<rect x="902" y="200" width="1" height="32" fill="#22c522"/>
<rect x="901" y="200" width="3" height="25" fill="#22c522"/>
<rect x="902" y="201" width="1" height="23" fill="#32cd32"/>
<rect x="906" y="208" width="1" height="19" fill="#ff0000"/>
<rect x="905" y="208" width="3" height="17" fill="#ff0000"/>
<rect x="906" y="209" width="1" height="15" fill="#ff4500"/>
<rect x="910" y="208" width="1" height="20" fill="#22c522"/>
<rect x="909" y="208" width="3" height="17" fill="#22c522"/>
<rect x="910" y="209" width="1" height="15" fill="#32cd32"/>
<rect x="914" y="216" width="1" height="12" fill="#ff0000"/>
<rect x="913" y="223" width="3" height="2" fill="#ff0000"/>
<rect x="918" y="215" width="1" height="14" fill="#ff0000"/>
<rect x="917" y="215" width="3" height="10" fill="#ff0000"/>
<rect x="918" y="216" width="1" height="8" fill="#ff4500"/>
<rect x="922" y="214" width="1" height="26" fill="#22c522"/>
<rect x="921" y="215" width="3" height="22" fill="#22c522"/>
<rect x="922" y="216" width="1" height="20" fill="#32cd32"/>
<rect x="926" y="225" width="1" height="22" fill="#ff0000"/>
<rect x="925" y="225" width="3" height="13" fill="#ff0000"/>
<rect x="926" y="226" width="1" height="11" fill="#ff4500"/>
<rect x="930" y="220" width="1" height="11" fill="#ff0000"/>
<rect x="929" y="222" width="3" height="4" fill="#ff0000"/>
<rect x="930" y="223" width="1" height="2" fill="#ff4500"/>
<rect x="934" y="214" width="1" height="15" fill="#22c522"/>
<rect x="933" y="222" width="3" height="1" fill="#22c522"/>
<rect x="938" y="219" width="1" height="15" fill="#22c522"/>
<rect x="937" y="222" width="3" height="10" fill="#22c522"/>
<rect x="938" y="223" width="1" height="8" fill="#32cd32"/>
<rect x="942" y="224" width="1" height="9" fill="#ff0000"/>
<rect x="941" y="225" width="3" height="7" fill="#ff0000"/>
<rect x="942" y="226" width="1" height="5" fill="#ff4500"/>
<rect x="946" y="216" width="1" height="21" fill="#ff0000"/>
<rect x="945" y="220" width="3" height="6" fill="#ff0000"/>
<rect x="946" y="221" width="1" height="4" fill="#ff4500"/>
<rect x="950" y="210" width="1" height="27" fill="#22c522"/>
<rect x="949" y="220" width="3" height="16" fill="#22c522"/>
<rect x="950" y="221" width="1" height="14" fill="#32cd32"/>
<rect x="954" y="220" width="1" height="22" fill="#ff0000"/>
<rect x="953" y="221" width="3" height="15" fill="#ff0000"/>
<rect x="954" y="222" width="1" height="13" fill="#ff4500"/>
<rect x="958" y="206" width="1" height="34" fill="#ff0000"/>
<rect x="957" y="209" width="3" height="13" fill="#ff0000"/>
<rect x="958" y="210" width="1" height="11" fill="#ff4500"/>
<rect x="962" y="198" width="1" height="18" fill="#ff0000"/>
<rect x="961" y="203" width="3" height="7" fill="#ff0000"/>
<rect x="962" y="204" width="1" height="5" fill="#ff4500"/>
<rect x="966" y="202" width="1" height="23" fill="#22c522"/>
<rect x="965" y="203" width="3" height="21" fill="#22c522"/>
<rect x="966" y="204" width="1" height="19" fill="#32cd32"/>
<rect x="970" y="221" width="1" height="58" fill="#22c522"/>
<rect x="969" y="223" width="3" height="53" fill="#22c522"/>
<rect x="970" y="224" width="1" height="51" fill="#32cd32"/>
<rect x="974" y="239" width="1" height="37" fill="#ff0000"/>
<rect x="973" y="242" width="3" height="34" fill="#ff0000"/>
<rect x="974" y="243" width="1" height="32" fill="#ff4500"/>
<rect x="978" y="212" width="1" height="31" fill="#ff0000"/>
<rect x="977" y="217" width="3" height="26" fill="#ff0000"/>
<rect x="978" y="218" width="1" height="24" fill="#ff4500"/>
<rect x="982" y="214" width="1" height="85" fill="#22c522"/>
<rect x="981" y="217" width="3" height="57" fill="#22c522"/>
<rect x="982" y="218" width="1" height="55" fill="#32cd32"/>
<rect x="986" y="264" width="1" height="18" fill="#22c522"/>
<rect x="985" y="273" width="3" height="3" fill="#22c522"/>
<rect x="986" y="274" width="1" height="1" fill="#32cd32"/>
<rect x="990" y="266" width="1" height="11" fill="#ff0000"/>
<rect x="989" y="272" width="3" height="4" fill="#ff0000"/>
<rect x="990" y="273" width="1" height="2" fill="#ff4500"/>
<rect x="994" y="236" width="1" height="46" fill="#ff0000"/>
<rect x="993" y="246" width="3" height="26" fill="#ff0000"/>
<rect x="994" y="247" width="1" height="24" fill="#ff4500"/>
<rect x="998" y="229" width="1" height="23" fill="#ff0000"/>
<rect x="997" y="238" width="3" height="9" fill="#ff0000"/>
<rect x="998" y="239" width="1" height="7" fill="#ff4500"/>
<rect x="1002" y="220" width="1" height="21" fill="#22c522"/>
<rect x="1001" y="238" width="3" height="2" fill="#22c522"/>
<rect x="1006" y="201" width="1" height="46" fill="#ff0000"/>
<rect x="1005" y="203" width="3" height="37" fill="#ff0000"/>
<rect x="1006" y="204" width="1" height="35" fill="#ff4500"/>
<rect x="1010" y="210" width="1" height="11" fill="#22c522"/>
<rect x="1009" y="213" width="3" height="5" fill="#22c522"/>
<rect x="1010" y="214" width="1" height="3" fill="#32cd32"/>
<rect x="1014" y="213" width="1" height="9" fill="#ff0000"/>
<rect x="1013" y="213" width="3" height="3" fill="#ff0000"/>
<rect x="1014" y="214" width="1" height="1" fill="#ff4500"/>
<rect x="1018" y="202" width="1" height="19" fill="#ff0000"/>
<rect x="1017" y="207" width="3" height="6" fill="#ff0000"/>
<rect x="1018" y="208" width="1" height="4" fill="#ff4500"/>
<rect x="1022" y="207" width="1" height="73" fill="#22c522"/>
<rect x="1021" y="207" width="3" height="72" fill="#22c522"/>
<rect x="1022" y="208" width="1" height="70" fill="#32cd32"/>
<rect x="1026" y="238" width="1" height="42" fill="#ff0000"/>
<rect x="1025" y="253" width="3" height="26" fill="#ff0000"/>
<rect x="1026" y="254" width="1" height="24" fill="#ff4500"/>
<rect x="1030" y="250" width="1" height="28" fill="#22c522"/>
<rect x="1029" y="252" width="3" height="18" fill="#22c522"/>
<rect x="1030" y="253" width="1" height="16" fill="#32cd32"/>
<rect x="1034" y="269" width="1" height="18" fill="#22c522"/>
<rect x="1033" y="270" width="3" height="12" fill="#22c522"/>
<rect x="1034" y="271" width="1" height="10" fill="#32cd32"/>
<rect x="1038" y="279" width="1" height="11" fill="#ff0000"/>
<rect x="1037" y="279" width="3" height="9" fill="#ff0000"/>
<rect x="1038" y="280" width="1" height="7" fill="#ff4500"/>
</g>
<rect x="922" y="200" width="183" height="2" fill="#ff1e28" shape-rendering="crispEdges"/>
<rect x="924" y="247" width="172" height="2" fill="#8dc400" shape-rendering="crispEdges"/>
<rect x="987" y="300" width="119" height="1" fill="#4169e1" shape-rendering="crispEdges"/>
<g clip-path="url(#cMacd)" shape-rendering="crispEdges">
<rect x="6" y="335" width="1" height="10" fill="#c0c0c0"/>
<rect x="10" y="335" width="1" height="10" fill="#c0c0c0"/>
<rect x="14" y="330" width="1" height="15" fill="#c0c0c0"/>
<rect x="18" y="327" width="1" height="18" fill="#c0c0c0"/>
<rect x="22" y="327" width="1" height="18" fill="#c0c0c0"/>
<rect x="26" y="326" width="1" height="19" fill="#c0c0c0"/>
<rect x="30" y="325" width="1" height="20" fill="#c0c0c0"/>
<rect x="34" y="325" width="1" height="20" fill="#c0c0c0"/>
<rect x="38" y="324" width="1" height="21" fill="#c0c0c0"/>
<rect x="42" y="327" width="1" height="18" fill="#c0c0c0"/>
<rect x="46" y="330" width="1" height="15" fill="#c0c0c0"/>
<rect x="50" y="332" width="1" height="13" fill="#c0c0c0"/>
<rect x="54" y="334" width="1" height="11" fill="#c0c0c0"/>
<rect x="58" y="333" width="1" height="12" fill="#c0c0c0"/>
<rect x="62" y="332" width="1" height="13" fill="#c0c0c0"/>
<rect x="66" y="332" width="1" height="13" fill="#c0c0c0"/>
<rect x="70" y="330" width="1" height="15" fill="#c0c0c0"/>
<rect x="74" y="329" width="1" height="16" fill="#c0c0c0"/>
<rect x="78" y="328" width="1" height="17" fill="#c0c0c0"/>
<rect x="82" y="327" width="1" height="18" fill="#c0c0c0"/>
<rect x="86" y="326" width="1" height="19" fill="#c0c0c0"/>
<rect x="90" y="322" width="1" height="23" fill="#c0c0c0"/>
<rect x="94" y="321" width="1" height="24" fill="#c0c0c0"/>
<rect x="98" y="320" width="1" height="25" fill="#c0c0c0"/>
<rect x="102" y="319" width="1" height="26" fill="#c0c0c0"/>
<rect x="106" y="318" width="1" height="27" fill="#c0c0c0"/>
<rect x="110" y="317" width="1" height="28" fill="#c0c0c0"/>
<rect x="114" y="317" width="1" height="28" fill="#c0c0c0"/>
<rect x="118" y="316" width="1" height="29" fill="#c0c0c0"/>
<rect x="122" y="317" width="1" height="28" fill="#c0c0c0"/>
<rect x="126" y="318" width="1" height="27" fill="#c0c0c0"/>
<rect x="130" y="320" width="1" height="25" fill="#c0c0c0"/>
<rect x="134" y="322" width="1" height="23" fill="#c0c0c0"/>
<rect x="138" y="325" width="1" height="20" fill="#c0c0c0"/>
<rect x="142" y="330" width="1" height="15" fill="#c0c0c0"/>
<rect x="146" y="333" width="1" height="12" fill="#c0c0c0"/>
<rect x="150" y="336" width="1" height="9" fill="#c0c0c0"/>
<rect x="154" y="341" width="1" height="4" fill="#c0c0c0"/>
<rect x="158" y="344" width="1" height="1" fill="#c0c0c0"/>
<rect x="162" y="343" width="1" height="2" fill="#c0c0c0"/>
<rect x="166" y="341" width="1" height="4" fill="#c0c0c0"/>
<rect x="170" y="340" width="1" height="5" fill="#c0c0c0"/>
<rect x="174" y="338" width="1" height="7" fill="#c0c0c0"/>
<rect x="178" y="337" width="1" height="8" fill="#c0c0c0"/>
<rect x="182" y="337" width="1" height="8" fill="#c0c0c0"/>
<rect x="186" y="337" width="1" height="8" fill="#c0c0c0"/>
<rect x="190" y="337" width="1" height="8" fill="#c0c0c0"/>
<rect x="194" y="337" width="1" height="8" fill="#c0c0c0"/>
<rect x="198" y="338" width="1" height="7" fill="#c0c0c0"/>
<rect x="202" y="338" width="1" height="7" fill="#c0c0c0"/>
<rect x="206" y="339" width="1" height="6" fill="#c0c0c0"/>
<rect x="210" y="339" width="1" height="6" fill="#c0c0c0"/>
<rect x="214" y="340" width="1" height="5" fill="#c0c0c0"/>
<rect x="218" y="343" width="1" height="2" fill="#c0c0c0"/>
<rect x="222" y="344" width="1" height="1" fill="#c0c0c0"/>
<rect x="226" y="344" width="1" height="9" fill="#c0c0c0"/>
<rect x="230" y="344" width="1" height="14" fill="#c0c0c0"/>
<rect x="234" y="344" width="1" height="15" fill="#c0c0c0"/>
<rect x="238" y="344" width="1" height="14" fill="#c0c0c0"/>
<rect x="242" y="344" width="1" height="11" fill="#c0c0c0"/>
<rect x="246" y="344" width="1" height="9" fill="#c0c0c0"/>
<rect x="250" y="344" width="1" height="7" fill="#c0c0c0"/>
<rect x="254" y="344" width="1" height="7" fill="#c0c0c0"/>
<rect x="258" y="344" width="1" height="5" fill="#c0c0c0"/>
<rect x="262" y="343" width="1" height="2" fill="#c0c0c0"/>
<rect x="266" y="339" width="1" height="6" fill="#c0c0c0"/>
<rect x="270" y="334" width="1" height="11" fill="#c0c0c0"/>
<rect x="274" y="333" width="1" height="12" fill="#c0c0c0"/>
<rect x="278" y="331" width="1" height="14" fill="#c0c0c0"/>
<rect x="282" y="332" width="1" height="13" fill="#c0c0c0"/>
<rect x="286" y="332" width="1" height="13" fill="#c0c0c0"/>
<rect x="290" y="331" width="1" height="14" fill="#c0c0c0"/>
<rect x="294" y="328" width="1" height="17" fill="#c0c0c0"/>
<rect x="298" y="324" width="1" height="21" fill="#c0c0c0"/>
<rect x="302" y="322" width="1" height="23" fill="#c0c0c0"/>
<rect x="306" y="322" width="1" height="23" fill="#c0c0c0"/>
<rect x="310" y="320" width="1" height="25" fill="#c0c0c0"/>
<rect x="314" y="319" width="1" height="26" fill="#c0c0c0"/>
<rect x="318" y="319" width="1" height="26" fill="#c0c0c0"/>
<rect x="322" y="317" width="1" height="28" fill="#c0c0c0"/>
<rect x="326" y="317" width="1" height="28" fill="#c0c0c0"/>
<rect x="330" y="319" width="1" height="26" fill="#c0c0c0"/>
<rect x="334" y="322" width="1" height="23" fill="#c0c0c0"/>
<rect x="338" y="326" width="1" height="19" fill="#c0c0c0"/>
<rect x="342" y="330" width="1" height="15" fill="#c0c0c0"/>
<rect x="346" y="329" width="1" height="16" fill="#c0c0c0"/>
<rect x="350" y="331" width="1" height="14" fill="#c0c0c0"/>
<rect x="354" y="333" width="1" height="12" fill="#c0c0c0"/>
<rect x="358" y="337" width="1" height="8" fill="#c0c0c0"/>
<rect x="362" y="340" width="1" height="5" fill="#c0c0c0"/>
<rect x="366" y="343" width="1" height="2" fill="#c0c0c0"/>
<rect x="370" y="344" width="1" height="1" fill="#c0c0c0"/>
<rect x="374" y="344" width="1" height="1" fill="#c0c0c0"/>
<rect x="378" y="344" width="1" height="1" fill="#c0c0c0"/>
<rect x="382" y="344" width="1" height="1" fill="#c0c0c0"/>
<rect x="386" y="344" width="1" height="1" fill="#c0c0c0"/>
<rect x="390" y="344" width="1" height="3" fill="#c0c0c0"/>
<rect x="394" y="344" width="1" height="2" fill="#c0c0c0"/>
<rect x="398" y="344" width="1" height="7" fill="#c0c0c0"/>
<rect x="402" y="344" width="1" height="9" fill="#c0c0c0"/>
<rect x="406" y="344" width="1" height="16" fill="#c0c0c0"/>
<rect x="410" y="344" width="1" height="19" fill="#c0c0c0"/>
<rect x="414" y="344" width="1" height="21" fill="#c0c0c0"/>
<rect x="418" y="344" width="1" height="26" fill="#c0c0c0"/>
<rect x="422" y="344" width="1" height="32" fill="#c0c0c0"/>
<rect x="426" y="344" width="1" height="37" fill="#c0c0c0"/>
<rect x="430" y="344" width="1" height="42" fill="#c0c0c0"/>
<rect x="434" y="344" width="1" height="47" fill="#c0c0c0"/>
<rect x="438" y="344" width="1" height="49" fill="#c0c0c0"/>
<rect x="442" y="344" width="1" height="51" fill="#c0c0c0"/>
<rect x="446" y="344" width="1" height="50" fill="#c0c0c0"/>
<rect x="450" y="344" width="1" height="49" fill="#c0c0c0"/>
<rect x="454" y="344" width="1" height="46" fill="#c0c0c0"/>
<rect x="458" y="344" width="1" height="44" fill="#c0c0c0"/>
<rect x="462" y="344" width="1" height="43" fill="#c0c0c0"/>
<rect x="466" y="344" width="1" height="38" fill="#c0c0c0"/>
<rect x="470" y="344" width="1" height="36" fill="#c0c0c0"/>
<rect x="474" y="344" width="1" height="34" fill="#c0c0c0"/>
<rect x="478" y="344" width="1" height="32" fill="#c0c0c0"/>
<rect x="482" y="344" width="1" height="31" fill="#c0c0c0"/>
<rect x="486" y="344" width="1" height="30" fill="#c0c0c0"/>
<rect x="490" y="344" width="1" height="28" fill="#c0c0c0"/>
<rect x="494" y="344" width="1" height="26" fill="#c0c0c0"/>
<rect x="498" y="344" width="1" height="24" fill="#c0c0c0"/>
<rect x="502" y="344" width="1" height="22" fill="#c0c0c0"/>
<rect x="506" y="344" width="1" height="22" fill="#c0c0c0"/>
<rect x="510" y="344" width="1" height="20" fill="#c0c0c0"/>
<rect x="514" y="344" width="1" height="16" fill="#c0c0c0"/>
<rect x="518" y="344" width="1" height="11" fill="#c0c0c0"/>
<rect x="522" y="344" width="1" height="9" fill="#c0c0c0"/>
<rect x="526" y="344" width="1" height="6" fill="#c0c0c0"/>
<rect x="530" y="344" width="1" height="3" fill="#c0c0c0"/>
<rect x="534" y="344" width="1" height="2" fill="#c0c0c0"/>
<rect x="538" y="344" width="1" height="1" fill="#c0c0c0"/>
<rect x="542" y="344" width="1" height="1" fill="#c0c0c0"/>
<rect x="546" y="341" width="1" height="4" fill="#c0c0c0"/>
<rect x="550" y="340" width="1" height="5" fill="#c0c0c0"/>
<rect x="554" y="339" width="1" height="6" fill="#c0c0c0"/>
<rect x="558" y="338" width="1" height="7" fill="#c0c0c0"/>
<rect x="562" y="336" width="1" height="9" fill="#c0c0c0"/>
<rect x="566" y="335" width="1" height="10" fill="#c0c0c0"/>
<rect x="570" y="335" width="1" height="10" fill="#c0c0c0"/>
<rect x="574" y="335" width="1" height="10" fill="#c0c0c0"/>
<rect x="578" y="335" width="1" height="10" fill="#c0c0c0"/>
<rect x="582" y="335" width="1" height="10" fill="#c0c0c0"/>
<rect x="586" y="336" width="1" height="9" fill="#c0c0c0"/>
<rect x="590" y="336" width="1" height="9" fill="#c0c0c0"/>
<rect x="594" y="337" width="1" height="8" fill="#c0c0c0"/>
<rect x="598" y="344" width="1" height="1" fill="#c0c0c0"/>
<rect x="602" y="344" width="1" height="4" fill="#c0c0c0"/>
<rect x="606" y="344" width="1" height="9" fill="#c0c0c0"/>
<rect x="610" y="344" width="1" height="8" fill="#c0c0c0"/>
<rect x="614" y="344" width="1" height="8" fill="#c0c0c0"/>
<rect x="618" y="344" width="1" height="8" fill="#c0c0c0"/>
<rect x="622" y="344" width="1" height="8" fill="#c0c0c0"/>
<rect x="626" y="344" width="1" height="8" fill="#c0c0c0"/>
<rect x="630" y="344" width="1" height="6" fill="#c0c0c0"/>
<rect x="634" y="344" width="1" height="6" fill="#c0c0c0"/>
<rect x="638" y="344" width="1" height="2" fill="#c0c0c0"/>
<rect x="642" y="344" width="1" height="1" fill="#c0c0c0"/>
<rect x="646" y="341" width="1" height="4" fill="#c0c0c0"/>
<rect x="650" y="341" width="1" height="4" fill="#c0c0c0"/>
<rect x="654" y="342" width="1" height="3" fill="#c0c0c0"/>
<rect x="658" y="340" width="1" height="5" fill="#c0c0c0"/>
<rect x="662" y="341" width="1" height="4" fill="#c0c0c0"/>
<rect x="666" y="342" width="1" height="3" fill="#c0c0c0"/>
<rect x="670" y="341" width="1" height="4" fill="#c0c0c0"/>
<rect x="674" y="342" width="1" height="3" fill="#c0c0c0"/>
<rect x="678" y="344" width="1" height="2" fill="#c0c0c0"/>
<rect x="682" y="344" width="1" height="3" fill="#c0c0c0"/>
<rect x="686" y="344" width="1" height="4" fill="#c0c0c0"/>
<rect x="690" y="344" width="1" height="3" fill="#c0c0c0"/>
<rect x="694" y="344" width="1" height="2" fill="#c0c0c0"/>
<rect x="698" y="343" width="1" height="2" fill="#c0c0c0"/>
<rect x="702" y="342" width="1" height="3" fill="#c0c0c0"/>
<rect x="706" y="342" width="1" height="3" fill="#c0c0c0"/>
<rect x="710" y="340" width="1" height="5" fill="#c0c0c0"/>
<rect x="714" y="340" width="1" height="5" fill="#c0c0c0"/>
<rect x="718" y="340" width="1" height="5" fill="#c0c0c0"/>
<rect x="722" y="342" width="1" height="3" fill="#c0c0c0"/>
<rect x="726" y="343" width="1" height="2" fill="#c0c0c0"/>
<rect x="730" y="343" width="1" height="2" fill="#c0c0c0"/>
<rect x="734" y="344" width="1" height="6" fill="#c0c0c0"/>
<rect x="738" y="344" width="1" height="11" fill="#c0c0c0"/>
<rect x="742" y="344" width="1" height="14" fill="#c0c0c0"/>
<rect x="746" y="344" width="1" height="16" fill="#c0c0c0"/>
<rect x="750" y="344" width="1" height="17" fill="#c0c0c0"/>
<rect x="754" y="344" width="1" height="17" fill="#c0c0c0"/>
<rect x="758" y="344" width="1" height="18" fill="#c0c0c0"/>
<rect x="762" y="344" width="1" height="20" fill="#c0c0c0"/>
<rect x="766" y="344" width="1" height="23" fill="#c0c0c0"/>
<rect x="770" y="344" width="1" height="28" fill="#c0c0c0"/>
<rect x="774" y="344" width="1" height="30" fill="#c0c0c0"/>
<rect x="778" y="344" width="1" height="30" fill="#c0c0c0"/>
<rect x="782" y="344" width="1" height="30" fill="#c0c0c0"/>
<rect x="786" y="344" width="1" height="30" fill="#c0c0c0"/>
<rect x="790" y="344" width="1" height="29" fill="#c0c0c0"/>
<rect x="794" y="344" width="1" height="29" fill="#c0c0c0"/>
<rect x="798" y="344" width="1" height="29" fill="#c0c0c0"/>
<rect x="802" y="344" width="1" height="30" fill="#c0c0c0"/>
<rect x="806" y="344" width="1" height="27" fill="#c0c0c0"/>
<rect x="810" y="344" width="1" height="22" fill="#c0c0c0"/>
<rect x="814" y="344" width="1" height="18" fill="#c0c0c0"/>
<rect x="818" y="344" width="1" height="14" fill="#c0c0c0"/>
<rect x="822" y="344" width="1" height="11" fill="#c0c0c0"/>
<rect x="826" y="344" width="1" height="7" fill="#c0c0c0"/>
<rect x="830" y="344" width="1" height="5" fill="#c0c0c0"/>
<rect x="834" y="344" width="1" height="4" fill="#c0c0c0"/>
<rect x="838" y="344" width="1" height="3" fill="#c0c0c0"/>
<rect x="842" y="344" width="1" height="2" fill="#c0c0c0"/>
<rect x="846" y="343" width="1" height="2" fill="#c0c0c0"/>
<rect x="850" y="344" width="1" height="1" fill="#c0c0c0"/>
<rect x="854" y="344" width="1" height="1" fill="#c0c0c0"/>
<rect x="858" y="342" width="1" height="3" fill="#c0c0c0"/>
<rect x="862" y="342" width="1" height="3" fill="#c0c0c0"/>
<rect x="866" y="340" width="1" height="5" fill="#c0c0c0"/>
<rect x="870" y="338" width="1" height="7" fill="#c0c0c0"/>
<rect x="874" y="335" width="1" height="10" fill="#c0c0c0"/>
<rect x="878" y="332" width="1" height="13" fill="#c0c0c0"/>
<rect x="882" y="331" width="1" height="14" fill="#c0c0c0"/>
<rect x="886" y="329" width="1" height="16" fill="#c0c0c0"/>
<rect x="890" y="327" width="1" height="18" fill="#c0c0c0"/>
<rect x="894" y="325" width="1" height="20" fill="#c0c0c0"/>
<rect x="898" y="328" width="1" height="17" fill="#c0c0c0"/>
<rect x="902" y="333" width="1" height="12" fill="#c0c0c0"/>
<rect x="906" y="335" width="1" height="10" fill="#c0c0c0"/>
<rect x="910" y="339" width="1" height="6" fill="#c0c0c0"/>
<rect x="914" y="342" width="1" height="3" fill="#c0c0c0"/>
<rect x="918" y="343" width="1" height="2" fill="#c0c0c0"/>
<rect x="922" y="344" width="1" height="2" fill="#c0c0c0"/>
<rect x="926" y="344" width="1" height="3" fill="#c0c0c0"/>
<rect x="930" y="344" width="1" height="4" fill="#c0c0c0"/>
<rect x="934" y="344" width="1" height="5" fill="#c0c0c0"/>
<rect x="938" y="344" width="1" height="5" fill="#c0c0c0"/>
<rect x="942" y="344" width="1" height="7" fill="#c0c0c0"/>
<rect x="946" y="344" width="1" height="6" fill="#c0c0c0"/>
<rect x="950" y="344" width="1" height="8" fill="#c0c0c0"/>
<rect x="954" y="344" width="1" height="6" fill="#c0c0c0"/>
<rect x="958" y="344" width="1" height="5" fill="#c0c0c0"/>
<rect x="962" y="344" width="1" height="2" fill="#c0c0c0"/>
<rect x="966" y="344" width="1" height="5" fill="#c0c0c0"/>
<rect x="970" y="344" width="1" height="10" fill="#c0c0c0"/>
<rect x="974" y="344" width="1" height="11" fill="#c0c0c0"/>
<rect x="978" y="344" width="1" height="9" fill="#c0c0c0"/>
<rect x="982" y="344" width="1" height="13" fill="#c0c0c0"/>
<rect x="986" y="344" width="1" height="18" fill="#c0c0c0"/>
<rect x="990" y="344" width="1" height="20" fill="#c0c0c0"/>
<rect x="994" y="344" width="1" height="19" fill="#c0c0c0"/>
<rect x="998" y="344" width="1" height="16" fill="#c0c0c0"/>
<rect x="1002" y="344" width="1" height="15" fill="#c0c0c0"/>
<rect x="1006" y="344" width="1" height="9" fill="#c0c0c0"/>
<rect x="1010" y="344" width="1" height="5" fill="#c0c0c0"/>
<rect x="1014" y="344" width="1" height="2" fill="#c0c0c0"/>
<rect x="1018" y="343" width="1" height="2" fill="#c0c0c0"/>
<rect x="1022" y="344" width="1" height="7" fill="#c0c0c0"/>
<rect x="1026" y="344" width="1" height="11" fill="#c0c0c0"/>
<rect x="1030" y="344" width="1" height="12" fill="#c0c0c0"/>
<rect x="1034" y="344" width="1" height="15" fill="#c0c0c0"/>
<rect x="1038" y="344" width="1" height="18" fill="#c0c0c0"/>
</g>
<path clip-path="url(#cMacd)" fill="#ff0000" shape-rendering="crispEdges" d="M121 316h1v1h-1zM125 316h3v1h-3zM119 317h2v1h-2zM131 317h3v1h-3zM137 317h3v1h-3zM114 318h2v1h-2zM113 319h1v1h-1zM143 319h3v1h-3zM329 319h3v1h-3zM335 319h1v1h-1zM108 320h2v1h-2zM323 320h3v1h-3zM336 320h2v1h-2zM107 321h1v1h-1zM149 321h1v1h-1zM341 321h3v1h-3zM103 322h1v1h-1zM150 322h1v1h-1zM317 322h3v1h-3zM347 322h3v1h-3zM101 323h2v1h-2zM151 323h1v1h-1zM313 323h1v1h-1zM97 324h1v1h-1zM311 324h2v1h-2zM353 324h2v1h-2zM95 325h2v1h-2zM355 325h1v1h-1zM35 326h3v1h-3zM41 326h3v1h-3zM47 326h3v1h-3zM53 326h3v1h-3zM89 326h3v1h-3zM155 326h1v1h-1zM305 326h3v1h-3zM31 327h1v1h-1zM59 327h3v1h-3zM65 327h3v1h-3zM83 327h3v1h-3zM156 327h2v1h-2zM359 327h2v1h-2zM29 328h2v1h-2zM71 328h3v1h-3zM77 328h3v1h-3zM301 328h1v1h-1zM361 328h1v1h-1zM23 329h3v1h-3zM299 329h2v1h-2zM161 330h1v1h-1zM365 330h2v1h-2zM904 330h3v1h-3zM910 330h3v1h-3zM18 331h2v1h-2zM162 331h2v1h-2zM295 331h1v1h-1zM367 331h1v1h-1zM898 331h3v1h-3zM916 331h1v1h-1zM17 332h1v1h-1zM293 332h2v1h-2zM917 332h2v1h-2zM12 333h2v1h-2zM167 333h1v1h-1zM371 333h1v1h-1zM893 333h2v1h-2zM11 334h1v1h-1zM168 334h2v1h-2zM289 334h1v1h-1zM372 334h1v1h-1zM892 334h1v1h-1zM922 334h2v1h-2zM6 335h2v1h-2zM287 335h2v1h-2zM373 335h1v1h-1zM582 335h1v1h-1zM586 335h3v1h-3zM592 335h2v1h-2zM887 335h2v1h-2zM924 335h1v1h-1zM6 336h1v1h-1zM173 336h2v1h-2zM574 336h3v1h-3zM580 336h2v1h-2zM594 336h1v1h-1zM598 336h3v1h-3zM886 336h1v1h-1zM175 337h1v1h-1zM179 337h2v1h-2zM192 337h2v1h-2zM197 337h3v1h-3zM203 337h3v1h-3zM209 337h3v1h-3zM215 337h2v1h-2zM377 337h1v1h-1zM882 337h1v1h-1zM928 337h2v1h-2zM181 338h1v1h-1zM185 338h3v1h-3zM191 338h1v1h-1zM217 338h1v1h-1zM221 338h1v1h-1zM283 338h1v1h-1zM378 338h2v1h-2zM568 338h3v1h-3zM604 338h2v1h-2zM880 338h2v1h-2zM930 338h1v1h-1zM222 339h2v1h-2zM281 339h2v1h-2zM606 339h1v1h-1zM876 339h1v1h-1zM383 340h1v1h-1zM563 340h2v1h-2zM676 340h3v1h-3zM874 340h2v1h-2zM934 340h1v1h-1zM227 341h1v1h-1zM384 341h2v1h-2zM562 341h1v1h-1zM610 341h2v1h-2zM670 341h3v1h-3zM682 341h3v1h-3zM730 341h3v1h-3zM935 341h2v1h-2zM228 342h1v1h-1zM277 342h1v1h-1zM389 342h2v1h-2zM558 342h1v1h-1zM612 342h1v1h-1zM664 342h3v1h-3zM688 342h3v1h-3zM714 342h1v1h-1zM718 342h3v1h-3zM724 342h3v1h-3zM736 342h2v1h-2zM868 342h3v1h-3zM229 343h1v1h-1zM275 343h2v1h-2zM391 343h1v1h-1zM556 343h2v1h-2zM660 343h1v1h-1zM694 343h3v1h-3zM700 343h3v1h-3zM706 343h3v1h-3zM712 343h2v1h-2zM738 343h1v1h-1zM863 343h2v1h-2zM940 343h1v1h-1zM395 344h3v1h-3zM616 344h2v1h-2zM658 344h2v1h-2zM862 344h1v1h-1zM941 344h2v1h-2zM233 345h1v1h-1zM552 345h1v1h-1zM618 345h1v1h-1zM654 345h1v1h-1zM742 345h2v1h-2zM856 345h3v1h-3zM946 345h1v1h-1zM234 346h1v1h-1zM270 346h2v1h-2zM401 346h2v1h-2zM550 346h2v1h-2zM622 346h1v1h-1zM652 346h2v1h-2zM744 346h1v1h-1zM947 346h2v1h-2zM235 347h1v1h-1zM269 347h1v1h-1zM403 347h1v1h-1zM623 347h2v1h-2zM648 347h1v1h-1zM851 347h2v1h-2zM952 347h3v1h-3zM407 348h1v1h-1zM628 348h2v1h-2zM646 348h2v1h-2zM748 348h2v1h-2zM850 348h1v1h-1zM958 348h3v1h-3zM964 348h3v1h-3zM239 349h2v1h-2zM265 349h1v1h-1zM408 349h2v1h-2zM545 349h2v1h-2zM630 349h1v1h-1zM640 349h3v1h-3zM750 349h1v1h-1zM970 349h3v1h-3zM241 350h1v1h-1zM263 350h2v1h-2zM544 350h1v1h-1zM634 350h3v1h-3zM846 350h1v1h-1zM976 350h3v1h-3zM245 351h1v1h-1zM754 351h2v1h-2zM845 351h1v1h-1zM982 351h1v1h-1zM1032 351h1v1h-1zM1036 351h3v1h-3zM246 352h2v1h-2zM259 352h1v1h-1zM413 352h2v1h-2zM540 352h1v1h-1zM756 352h1v1h-1zM844 352h1v1h-1zM983 352h2v1h-2zM1025 352h2v1h-2zM1030 352h2v1h-2zM251 353h3v1h-3zM257 353h2v1h-2zM415 353h1v1h-1zM539 353h1v1h-1zM988 353h2v1h-2zM1024 353h1v1h-1zM538 354h1v1h-1zM760 354h1v1h-1zM840 354h1v1h-1zM990 354h1v1h-1zM1018 354h3v1h-3zM761 355h2v1h-2zM839 355h1v1h-1zM994 355h3v1h-3zM1014 355h1v1h-1zM419 356h1v1h-1zM534 356h1v1h-1zM838 356h1v1h-1zM1012 356h2v1h-2zM420 357h2v1h-2zM532 357h2v1h-2zM1000 357h3v1h-3zM1007 357h2v1h-2zM766 358h2v1h-2zM834 358h1v1h-1zM1006 358h1v1h-1zM768 359h1v1h-1zM832 359h2v1h-2zM528 360h1v1h-1zM425 361h1v1h-1zM526 361h2v1h-2zM772 361h1v1h-1zM426 362h1v1h-1zM773 362h2v1h-2zM827 362h2v1h-2zM427 363h1v1h-1zM826 363h1v1h-1zM522 364h1v1h-1zM778 364h1v1h-1zM520 365h2v1h-2zM779 365h2v1h-2zM821 365h2v1h-2zM820 366h1v1h-1zM430 367h1v1h-1zM515 367h2v1h-2zM784 367h1v1h-1zM431 368h1v1h-1zM514 368h1v1h-1zM785 368h2v1h-2zM815 368h2v1h-2zM432 369h1v1h-1zM509 369h2v1h-2zM790 369h1v1h-1zM814 369h1v1h-1zM508 370h1v1h-1zM791 370h2v1h-2zM809 370h2v1h-2zM503 371h2v1h-2zM796 371h2v1h-2zM803 371h2v1h-2zM808 371h1v1h-1zM502 372h1v1h-1zM798 372h1v1h-1zM802 372h1v1h-1zM436 373h1v1h-1zM437 374h1v1h-1zM497 374h2v1h-2zM438 375h1v1h-1zM496 375h1v1h-1zM491 377h2v1h-2zM490 378h1v1h-1zM442 379h1v1h-1zM443 380h1v1h-1zM485 380h2v1h-2zM444 381h1v1h-1zM484 381h1v1h-1zM479 383h2v1h-2zM478 384h1v1h-1zM448 385h1v1h-1zM449 386h2v1h-2zM472 386h3v1h-3zM454 387h2v1h-2zM468 387h1v1h-1zM456 388h1v1h-1zM466 388h2v1h-2zM460 389h3v1h-3z"/>
<g shape-rendering="crispEdges" stroke="#c0c0c0" stroke-width="1" stroke-dasharray="3 3"><path d="M7 434.5H1306"/><path d="M7 478.5H1306"/></g>
<path clip-path="url(#cRsi)" fill="#1e90ff" shape-rendering="crispEdges" d="M109 430h1v1h-1zM119 430h1v1h-1zM107 431h2v1h-2zM110 431h1v1h-1zM118 431h1v1h-1zM120 431h2v1h-2zM96 432h3v1h-3zM105 432h2v1h-2zM111 432h1v1h-1zM117 432h1v1h-1zM122 432h2v1h-2zM93 433h3v1h-3zM99 433h2v1h-2zM103 433h2v1h-2zM112 433h1v1h-1zM116 433h1v1h-1zM124 433h1v1h-1zM91 434h2v1h-2zM101 434h2v1h-2zM113 434h1v1h-1zM115 434h1v1h-1zM125 434h1v1h-1zM90 435h1v1h-1zM114 435h1v1h-1zM125 435h1v1h-1zM89 436h1v1h-1zM126 436h1v1h-1zM14 437h1v1h-1zM87 437h2v1h-2zM127 437h1v1h-1zM13 438h1v1h-1zM15 438h2v1h-2zM86 438h1v1h-1zM127 438h1v1h-1zM321 438h2v1h-2zM13 439h1v1h-1zM17 439h2v1h-2zM85 439h1v1h-1zM127 439h1v1h-1zM318 439h3v1h-3zM323 439h1v1h-1zM878 439h1v1h-1zM886 439h2v1h-2zM12 440h1v1h-1zM19 440h1v1h-1zM84 440h1v1h-1zM128 440h1v1h-1zM295 440h6v1h-6zM311 440h7v1h-7zM323 440h1v1h-1zM876 440h2v1h-2zM879 440h1v1h-1zM885 440h1v1h-1zM888 440h4v1h-4zM12 441h1v1h-1zM19 441h1v1h-1zM72 441h5v1h-5zM82 441h2v1h-2zM128 441h1v1h-1zM269 441h2v1h-2zM295 441h1v1h-1zM301 441h2v1h-2zM309 441h2v1h-2zM324 441h1v1h-1zM875 441h1v1h-1zM880 441h1v1h-1zM884 441h1v1h-1zM892 441h3v1h-3zM11 442h1v1h-1zM20 442h1v1h-1zM32 442h7v1h-7zM70 442h2v1h-2zM77 442h2v1h-2zM80 442h2v1h-2zM128 442h1v1h-1zM267 442h2v1h-2zM270 442h1v1h-1zM294 442h1v1h-1zM303 442h2v1h-2zM307 442h2v1h-2zM325 442h1v1h-1zM874 442h1v1h-1zM880 442h1v1h-1zM884 442h1v1h-1zM894 442h1v1h-1zM10 443h1v1h-1zM21 443h1v1h-1zM25 443h3v1h-3zM30 443h2v1h-2zM38 443h1v1h-1zM69 443h1v1h-1zM79 443h1v1h-1zM128 443h1v1h-1zM262 443h5v1h-5zM271 443h1v1h-1zM294 443h1v1h-1zM305 443h2v1h-2zM325 443h1v1h-1zM562 443h2v1h-2zM594 443h1v1h-1zM873 443h1v1h-1zM881 443h1v1h-1zM883 443h1v1h-1zM895 443h1v1h-1zM10 444h1v1h-1zM21 444h1v1h-1zM23 444h2v1h-2zM28 444h2v1h-2zM38 444h1v1h-1zM68 444h1v1h-1zM128 444h1v1h-1zM262 444h1v1h-1zM271 444h1v1h-1zM293 444h1v1h-1zM326 444h1v1h-1zM561 444h1v1h-1zM564 444h3v1h-3zM593 444h2v1h-2zM873 444h1v1h-1zM882 444h1v1h-1zM895 444h1v1h-1zM9 445h1v1h-1zM22 445h1v1h-1zM39 445h1v1h-1zM66 445h2v1h-2zM129 445h1v1h-1zM261 445h1v1h-1zM272 445h1v1h-1zM293 445h1v1h-1zM327 445h1v1h-1zM548 445h3v1h-3zM561 445h1v1h-1zM567 445h1v1h-1zM593 445h2v1h-2zM645 445h2v1h-2zM872 445h1v1h-1zM895 445h1v1h-1zM9 446h1v1h-1zM39 446h1v1h-1zM64 446h2v1h-2zM129 446h1v1h-1zM261 446h1v1h-1zM272 446h1v1h-1zM277 446h1v1h-1zM292 446h1v1h-1zM328 446h1v1h-1zM346 446h1v1h-1zM530 446h1v1h-1zM542 446h6v1h-6zM551 446h1v1h-1zM560 446h1v1h-1zM568 446h2v1h-2zM592 446h1v1h-1zM594 446h1v1h-1zM643 446h2v1h-2zM646 446h1v1h-1zM871 446h1v1h-1zM896 446h1v1h-1zM8 447h1v1h-1zM39 447h1v1h-1zM62 447h2v1h-2zM129 447h1v1h-1zM186 447h1v1h-1zM261 447h1v1h-1zM272 447h1v1h-1zM275 447h2v1h-2zM278 447h1v1h-1zM292 447h1v1h-1zM328 447h1v1h-1zM346 447h1v1h-1zM529 447h2v1h-2zM542 447h1v1h-1zM552 447h1v1h-1zM560 447h1v1h-1zM570 447h1v1h-1zM578 447h1v1h-1zM591 447h1v1h-1zM595 447h1v1h-1zM638 447h5v1h-5zM647 447h1v1h-1zM871 447h1v1h-1zM896 447h1v1h-1zM8 448h1v1h-1zM39 448h1v1h-1zM60 448h2v1h-2zM129 448h1v1h-1zM166 448h1v1h-1zM185 448h1v1h-1zM187 448h1v1h-1zM260 448h1v1h-1zM273 448h2v1h-2zM278 448h1v1h-1zM291 448h1v1h-1zM329 448h1v1h-1zM345 448h1v1h-1zM347 448h1v1h-1zM528 448h1v1h-1zM531 448h1v1h-1zM541 448h1v1h-1zM553 448h1v1h-1zM557 448h3v1h-3zM571 448h1v1h-1zM577 448h1v1h-1zM579 448h1v1h-1zM591 448h1v1h-1zM595 448h1v1h-1zM638 448h1v1h-1zM647 448h1v1h-1zM710 448h1v1h-1zM826 448h1v1h-1zM869 448h2v1h-2zM896 448h1v1h-1zM8 449h1v1h-1zM40 449h1v1h-1zM58 449h2v1h-2zM129 449h1v1h-1zM165 449h1v1h-1zM167 449h1v1h-1zM176 449h3v1h-3zM184 449h1v1h-1zM187 449h1v1h-1zM260 449h1v1h-1zM273 449h1v1h-1zM279 449h1v1h-1zM291 449h1v1h-1zM330 449h2v1h-2zM345 449h1v1h-1zM347 449h1v1h-1zM527 449h1v1h-1zM531 449h1v1h-1zM541 449h1v1h-1zM554 449h3v1h-3zM572 449h1v1h-1zM576 449h1v1h-1zM580 449h1v1h-1zM590 449h1v1h-1zM595 449h1v1h-1zM637 449h1v1h-1zM648 449h1v1h-1zM698 449h5v1h-5zM709 449h1v1h-1zM711 449h1v1h-1zM825 449h1v1h-1zM827 449h1v1h-1zM867 449h2v1h-2zM896 449h1v1h-1zM1006 449h1v1h-1zM8 450h1v1h-1zM40 450h1v1h-1zM57 450h1v1h-1zM129 450h1v1h-1zM165 450h1v1h-1zM168 450h2v1h-2zM172 450h4v1h-4zM179 450h2v1h-2zM183 450h1v1h-1zM188 450h1v1h-1zM259 450h1v1h-1zM279 450h1v1h-1zM285 450h6v1h-6zM332 450h3v1h-3zM345 450h1v1h-1zM347 450h1v1h-1zM520 450h7v1h-7zM532 450h1v1h-1zM540 450h1v1h-1zM573 450h1v1h-1zM575 450h1v1h-1zM581 450h1v1h-1zM589 450h1v1h-1zM595 450h1v1h-1zM637 450h1v1h-1zM648 450h1v1h-1zM658 450h1v1h-1zM697 450h1v1h-1zM703 450h1v1h-1zM709 450h1v1h-1zM711 450h1v1h-1zM824 450h1v1h-1zM828 450h1v1h-1zM866 450h1v1h-1zM897 450h1v1h-1zM962 450h1v1h-1zM1006 450h2v1h-2zM7 451h1v1h-1zM40 451h1v1h-1zM56 451h1v1h-1zM130 451h1v1h-1zM164 451h1v1h-1zM170 451h2v1h-2zM181 451h2v1h-2zM188 451h1v1h-1zM194 451h1v1h-1zM259 451h1v1h-1zM280 451h1v1h-1zM283 451h2v1h-2zM335 451h1v1h-1zM344 451h1v1h-1zM348 451h1v1h-1zM517 451h3v1h-3zM532 451h1v1h-1zM540 451h1v1h-1zM574 451h1v1h-1zM582 451h1v1h-1zM588 451h1v1h-1zM595 451h1v1h-1zM636 451h1v1h-1zM648 451h1v1h-1zM657 451h1v1h-1zM659 451h1v1h-1zM669 451h2v1h-2zM696 451h1v1h-1zM704 451h1v1h-1zM708 451h1v1h-1zM712 451h1v1h-1zM823 451h1v1h-1zM829 451h1v1h-1zM842 451h2v1h-2zM865 451h1v1h-1zM897 451h1v1h-1zM960 451h2v1h-2zM963 451h1v1h-1zM1005 451h1v1h-1zM1008 451h2v1h-2zM1016 451h3v1h-3zM7 452h1v1h-1zM40 452h1v1h-1zM56 452h1v1h-1zM130 452h1v1h-1zM163 452h1v1h-1zM189 452h1v1h-1zM192 452h2v1h-2zM195 452h1v1h-1zM201 452h2v1h-2zM259 452h1v1h-1zM280 452h1v1h-1zM282 452h1v1h-1zM335 452h1v1h-1zM344 452h1v1h-1zM348 452h1v1h-1zM515 452h2v1h-2zM533 452h1v1h-1zM540 452h1v1h-1zM583 452h2v1h-2zM587 452h1v1h-1zM595 452h1v1h-1zM636 452h1v1h-1zM649 452h1v1h-1zM656 452h1v1h-1zM659 452h1v1h-1zM667 452h2v1h-2zM670 452h1v1h-1zM696 452h1v1h-1zM704 452h1v1h-1zM707 452h1v1h-1zM713 452h1v1h-1zM821 452h2v1h-2zM830 452h1v1h-1zM840 452h2v1h-2zM844 452h3v1h-3zM854 452h5v1h-5zM864 452h1v1h-1zM897 452h1v1h-1zM959 452h1v1h-1zM963 452h1v1h-1zM1005 452h1v1h-1zM1010 452h6v1h-6zM1018 452h1v1h-1zM7 453h1v1h-1zM41 453h1v1h-1zM50 453h2v1h-2zM55 453h1v1h-1zM130 453h4v1h-4zM163 453h1v1h-1zM189 453h1v1h-1zM191 453h1v1h-1zM196 453h2v1h-2zM199 453h2v1h-2zM203 453h1v1h-1zM258 453h1v1h-1zM281 453h1v1h-1zM336 453h1v1h-1zM344 453h1v1h-1zM349 453h1v1h-1zM394 453h1v1h-1zM514 453h1v1h-1zM533 453h1v1h-1zM539 453h1v1h-1zM585 453h2v1h-2zM595 453h1v1h-1zM635 453h1v1h-1zM649 453h1v1h-1zM656 453h1v1h-1zM660 453h1v1h-1zM666 453h1v1h-1zM671 453h1v1h-1zM695 453h1v1h-1zM705 453h1v1h-1zM707 453h1v1h-1zM713 453h1v1h-1zM819 453h2v1h-2zM831 453h1v1h-1zM839 453h1v1h-1zM847 453h1v1h-1zM853 453h1v1h-1zM859 453h2v1h-2zM863 453h1v1h-1zM898 453h1v1h-1zM958 453h1v1h-1zM964 453h1v1h-1zM1004 453h1v1h-1zM1019 453h1v1h-1zM7 454h1v1h-1zM41 454h1v1h-1zM49 454h1v1h-1zM52 454h3v1h-3zM134 454h5v1h-5zM162 454h1v1h-1zM190 454h1v1h-1zM198 454h1v1h-1zM204 454h1v1h-1zM250 454h9v1h-9zM336 454h1v1h-1zM343 454h1v1h-1zM349 454h1v1h-1zM393 454h2v1h-2zM514 454h1v1h-1zM534 454h1v1h-1zM539 454h1v1h-1zM595 454h1v1h-1zM635 454h1v1h-1zM650 454h1v1h-1zM655 454h1v1h-1zM660 454h1v1h-1zM665 454h1v1h-1zM671 454h1v1h-1zM693 454h2v1h-2zM706 454h1v1h-1zM714 454h1v1h-1zM730 454h1v1h-1zM813 454h6v1h-6zM832 454h1v1h-1zM837 454h2v1h-2zM847 454h1v1h-1zM853 454h1v1h-1zM861 454h2v1h-2zM898 454h1v1h-1zM957 454h1v1h-1zM964 454h1v1h-1zM1004 454h1v1h-1zM1019 454h1v1h-1zM6 455h1v1h-1zM41 455h1v1h-1zM49 455h1v1h-1zM139 455h1v1h-1zM162 455h1v1h-1zM205 455h1v1h-1zM208 455h3v1h-3zM241 455h1v1h-1zM248 455h2v1h-2zM337 455h1v1h-1zM343 455h1v1h-1zM349 455h1v1h-1zM353 455h2v1h-2zM393 455h1v1h-1zM395 455h1v1h-1zM513 455h1v1h-1zM534 455h2v1h-2zM538 455h1v1h-1zM596 455h1v1h-1zM633 455h2v1h-2zM650 455h5v1h-5zM661 455h1v1h-1zM664 455h1v1h-1zM672 455h1v1h-1zM691 455h2v1h-2zM715 455h2v1h-2zM729 455h2v1h-2zM811 455h2v1h-2zM833 455h1v1h-1zM835 455h2v1h-2zM848 455h1v1h-1zM852 455h1v1h-1zM898 455h1v1h-1zM956 455h1v1h-1zM965 455h1v1h-1zM978 455h1v1h-1zM1003 455h1v1h-1zM1019 455h1v1h-1zM6 456h1v1h-1zM42 456h1v1h-1zM48 456h1v1h-1zM139 456h1v1h-1zM161 456h1v1h-1zM206 456h2v1h-2zM211 456h1v1h-1zM241 456h3v1h-3zM246 456h2v1h-2zM337 456h1v1h-1zM343 456h1v1h-1zM350 456h3v1h-3zM354 456h1v1h-1zM392 456h1v1h-1zM395 456h1v1h-1zM513 456h1v1h-1zM536 456h3v1h-3zM596 456h1v1h-1zM631 456h2v1h-2zM661 456h1v1h-1zM663 456h1v1h-1zM672 456h1v1h-1zM690 456h1v1h-1zM717 456h2v1h-2zM728 456h1v1h-1zM730 456h1v1h-1zM810 456h1v1h-1zM834 456h1v1h-1zM849 456h1v1h-1zM851 456h1v1h-1zM899 456h1v1h-1zM956 456h1v1h-1zM965 456h1v1h-1zM977 456h2v1h-2zM1003 456h1v1h-1zM1019 456h1v1h-1zM43 457h2v1h-2zM47 457h1v1h-1zM140 457h1v1h-1zM161 457h1v1h-1zM212 457h2v1h-2zM240 457h1v1h-1zM244 457h2v1h-2zM338 457h1v1h-1zM342 457h1v1h-1zM350 457h1v1h-1zM355 457h1v1h-1zM391 457h1v1h-1zM395 457h1v1h-1zM513 457h1v1h-1zM596 457h1v1h-1zM630 457h1v1h-1zM662 457h1v1h-1zM673 457h1v1h-1zM689 457h1v1h-1zM719 457h1v1h-1zM727 457h1v1h-1zM731 457h1v1h-1zM809 457h1v1h-1zM849 457h1v1h-1zM851 457h1v1h-1zM899 457h1v1h-1zM906 457h1v1h-1zM955 457h1v1h-1zM966 457h1v1h-1zM977 457h1v1h-1zM979 457h1v1h-1zM998 457h2v1h-2zM1002 457h1v1h-1zM1020 457h1v1h-1zM45 458h1v1h-1zM47 458h1v1h-1zM140 458h1v1h-1zM160 458h1v1h-1zM214 458h1v1h-1zM240 458h1v1h-1zM338 458h5v1h-5zM355 458h1v1h-1zM362 458h1v1h-1zM370 458h1v1h-1zM385 458h3v1h-3zM391 458h1v1h-1zM395 458h1v1h-1zM512 458h1v1h-1zM596 458h1v1h-1zM629 458h1v1h-1zM673 458h1v1h-1zM689 458h1v1h-1zM720 458h1v1h-1zM725 458h2v1h-2zM731 458h1v1h-1zM809 458h1v1h-1zM850 458h1v1h-1zM900 458h1v1h-1zM905 458h1v1h-1zM907 458h1v1h-1zM945 458h2v1h-2zM954 458h1v1h-1zM966 458h1v1h-1zM976 458h1v1h-1zM979 458h1v1h-1zM996 458h2v1h-2zM1000 458h3v1h-3zM1020 458h1v1h-1zM46 459h1v1h-1zM141 459h1v1h-1zM145 459h1v1h-1zM160 459h1v1h-1zM215 459h1v1h-1zM239 459h1v1h-1zM356 459h1v1h-1zM361 459h1v1h-1zM363 459h1v1h-1zM368 459h2v1h-2zM371 459h1v1h-1zM377 459h3v1h-3zM383 459h2v1h-2zM388 459h3v1h-3zM396 459h1v1h-1zM512 459h1v1h-1zM596 459h1v1h-1zM620 459h3v1h-3zM628 459h1v1h-1zM674 459h1v1h-1zM688 459h1v1h-1zM721 459h1v1h-1zM723 459h2v1h-2zM731 459h1v1h-1zM808 459h1v1h-1zM900 459h1v1h-1zM905 459h1v1h-1zM907 459h1v1h-1zM918 459h1v1h-1zM943 459h2v1h-2zM947 459h1v1h-1zM953 459h1v1h-1zM966 459h1v1h-1zM976 459h1v1h-1zM979 459h1v1h-1zM995 459h1v1h-1zM1020 459h1v1h-1zM141 460h1v1h-1zM143 460h2v1h-2zM146 460h1v1h-1zM159 460h1v1h-1zM215 460h1v1h-1zM239 460h1v1h-1zM356 460h1v1h-1zM361 460h1v1h-1zM364 460h2v1h-2zM367 460h1v1h-1zM372 460h2v1h-2zM375 460h2v1h-2zM380 460h3v1h-3zM396 460h1v1h-1zM512 460h1v1h-1zM596 460h1v1h-1zM610 460h10v1h-10zM623 460h2v1h-2zM627 460h1v1h-1zM674 460h1v1h-1zM688 460h1v1h-1zM722 460h1v1h-1zM731 460h1v1h-1zM807 460h1v1h-1zM900 460h1v1h-1zM904 460h1v1h-1zM908 460h1v1h-1zM916 460h2v1h-2zM919 460h1v1h-1zM928 460h7v1h-7zM942 460h1v1h-1zM947 460h1v1h-1zM953 460h1v1h-1zM967 460h1v1h-1zM975 460h1v1h-1zM980 460h1v1h-1zM994 460h1v1h-1zM1020 460h1v1h-1zM142 461h1v1h-1zM147 461h1v1h-1zM159 461h1v1h-1zM216 461h1v1h-1zM238 461h1v1h-1zM357 461h1v1h-1zM360 461h1v1h-1zM366 461h1v1h-1zM374 461h1v1h-1zM396 461h1v1h-1zM512 461h1v1h-1zM596 461h1v1h-1zM610 461h1v1h-1zM625 461h2v1h-2zM675 461h1v1h-1zM687 461h1v1h-1zM731 461h1v1h-1zM807 461h1v1h-1zM901 461h1v1h-1zM904 461h1v1h-1zM909 461h1v1h-1zM915 461h1v1h-1zM919 461h1v1h-1zM926 461h2v1h-2zM935 461h1v1h-1zM940 461h2v1h-2zM948 461h1v1h-1zM952 461h1v1h-1zM967 461h1v1h-1zM975 461h1v1h-1zM980 461h1v1h-1zM993 461h1v1h-1zM1021 461h1v1h-1zM1026 461h1v1h-1zM148 462h1v1h-1zM158 462h1v1h-1zM216 462h1v1h-1zM237 462h1v1h-1zM357 462h1v1h-1zM359 462h1v1h-1zM396 462h1v1h-1zM511 462h1v1h-1zM596 462h1v1h-1zM609 462h1v1h-1zM676 462h2v1h-2zM687 462h1v1h-1zM732 462h1v1h-1zM806 462h1v1h-1zM901 462h1v1h-1zM903 462h1v1h-1zM909 462h1v1h-1zM912 462h3v1h-3zM920 462h1v1h-1zM925 462h1v1h-1zM936 462h2v1h-2zM939 462h1v1h-1zM949 462h1v1h-1zM951 462h1v1h-1zM967 462h1v1h-1zM974 462h1v1h-1zM980 462h1v1h-1zM993 462h1v1h-1zM1021 462h1v1h-1zM1025 462h1v1h-1zM1027 462h2v1h-2zM149 463h1v1h-1zM158 463h1v1h-1zM217 463h1v1h-1zM236 463h1v1h-1zM358 463h2v1h-2zM397 463h1v1h-1zM511 463h1v1h-1zM597 463h1v1h-1zM609 463h1v1h-1zM678 463h1v1h-1zM686 463h1v1h-1zM732 463h1v1h-1zM754 463h1v1h-1zM806 463h1v1h-1zM902 463h2v1h-2zM910 463h2v1h-2zM920 463h1v1h-1zM924 463h1v1h-1zM938 463h1v1h-1zM949 463h1v1h-1zM951 463h1v1h-1zM967 463h1v1h-1zM974 463h1v1h-1zM981 463h1v1h-1zM992 463h1v1h-1zM1021 463h1v1h-1zM1025 463h1v1h-1zM1029 463h2v1h-2zM150 464h1v1h-1zM158 464h1v1h-1zM217 464h1v1h-1zM220 464h2v1h-2zM235 464h1v1h-1zM358 464h1v1h-1zM397 464h1v1h-1zM511 464h1v1h-1zM597 464h1v1h-1zM609 464h1v1h-1zM679 464h1v1h-1zM685 464h1v1h-1zM732 464h1v1h-1zM753 464h1v1h-1zM755 464h1v1h-1zM805 464h1v1h-1zM902 464h1v1h-1zM921 464h1v1h-1zM924 464h1v1h-1zM950 464h1v1h-1zM968 464h1v1h-1zM973 464h1v1h-1zM981 464h1v1h-1zM992 464h1v1h-1zM1021 464h1v1h-1zM1024 464h1v1h-1zM1031 464h2v1h-2zM150 465h1v1h-1zM157 465h1v1h-1zM218 465h2v1h-2zM221 465h1v1h-1zM234 465h1v1h-1zM397 465h1v1h-1zM510 465h1v1h-1zM597 465h1v1h-1zM609 465h1v1h-1zM680 465h1v1h-1zM684 465h1v1h-1zM732 465h1v1h-1zM752 465h1v1h-1zM756 465h1v1h-1zM805 465h1v1h-1zM921 465h1v1h-1zM923 465h1v1h-1zM968 465h1v1h-1zM973 465h1v1h-1zM981 465h1v1h-1zM991 465h1v1h-1zM1022 465h2v1h-2zM1033 465h3v1h-3zM151 466h1v1h-1zM157 466h1v1h-1zM222 466h1v1h-1zM233 466h1v1h-1zM397 466h1v1h-1zM401 466h2v1h-2zM494 466h5v1h-5zM510 466h1v1h-1zM597 466h1v1h-1zM608 466h1v1h-1zM680 466h1v1h-1zM684 466h1v1h-1zM732 466h1v1h-1zM742 466h2v1h-2zM752 466h1v1h-1zM757 466h1v1h-1zM805 466h1v1h-1zM922 466h1v1h-1zM968 466h1v1h-1zM973 466h1v1h-1zM982 466h1v1h-1zM991 466h1v1h-1zM1022 466h2v1h-2zM1036 466h3v1h-3zM152 467h1v1h-1zM156 467h1v1h-1zM222 467h1v1h-1zM233 467h1v1h-1zM398 467h3v1h-3zM403 467h1v1h-1zM466 467h2v1h-2zM472 467h3v1h-3zM492 467h2v1h-2zM499 467h1v1h-1zM508 467h2v1h-2zM597 467h1v1h-1zM608 467h1v1h-1zM681 467h1v1h-1zM683 467h1v1h-1zM732 467h1v1h-1zM741 467h1v1h-1zM744 467h4v1h-4zM751 467h1v1h-1zM758 467h2v1h-2zM789 467h3v1h-3zM804 467h1v1h-1zM968 467h1v1h-1zM972 467h1v1h-1zM982 467h2v1h-2zM988 467h3v1h-3zM1022 467h1v1h-1zM152 468h1v1h-1zM156 468h1v1h-1zM222 468h1v1h-1zM232 468h1v1h-1zM398 468h1v1h-1zM403 468h1v1h-1zM465 468h1v1h-1zM468 468h4v1h-4zM475 468h2v1h-2zM491 468h1v1h-1zM500 468h2v1h-2zM507 468h1v1h-1zM597 468h1v1h-1zM608 468h1v1h-1zM682 468h1v1h-1zM733 468h1v1h-1zM740 468h1v1h-1zM748 468h3v1h-3zM760 468h3v1h-3zM778 468h1v1h-1zM787 468h2v1h-2zM792 468h4v1h-4zM804 468h1v1h-1zM969 468h1v1h-1zM972 468h1v1h-1zM984 468h4v1h-4zM153 469h1v1h-1zM155 469h1v1h-1zM222 469h1v1h-1zM231 469h1v1h-1zM404 469h1v1h-1zM465 469h1v1h-1zM477 469h2v1h-2zM490 469h1v1h-1zM502 469h5v1h-5zM597 469h1v1h-1zM608 469h1v1h-1zM733 469h1v1h-1zM739 469h1v1h-1zM763 469h1v1h-1zM777 469h1v1h-1zM779 469h1v1h-1zM785 469h2v1h-2zM796 469h3v1h-3zM804 469h1v1h-1zM969 469h1v1h-1zM972 469h1v1h-1zM153 470h1v1h-1zM155 470h1v1h-1zM223 470h1v1h-1zM231 470h1v1h-1zM405 470h1v1h-1zM412 470h3v1h-3zM464 470h1v1h-1zM479 470h2v1h-2zM489 470h1v1h-1zM597 470h1v1h-1zM607 470h1v1h-1zM733 470h1v1h-1zM738 470h1v1h-1zM764 470h1v1h-1zM776 470h1v1h-1zM780 470h2v1h-2zM783 470h2v1h-2zM799 470h1v1h-1zM803 470h1v1h-1zM969 470h1v1h-1zM971 470h1v1h-1zM154 471h1v1h-1zM223 471h1v1h-1zM230 471h1v1h-1zM405 471h1v1h-1zM408 471h4v1h-4zM415 471h1v1h-1zM464 471h1v1h-1zM481 471h2v1h-2zM488 471h1v1h-1zM598 471h1v1h-1zM607 471h1v1h-1zM733 471h1v1h-1zM737 471h1v1h-1zM764 471h1v1h-1zM776 471h1v1h-1zM782 471h1v1h-1zM800 471h1v1h-1zM803 471h1v1h-1zM969 471h1v1h-1zM971 471h1v1h-1zM223 472h1v1h-1zM230 472h1v1h-1zM406 472h2v1h-2zM415 472h1v1h-1zM454 472h6v1h-6zM463 472h1v1h-1zM483 472h2v1h-2zM487 472h1v1h-1zM598 472h1v1h-1zM607 472h1v1h-1zM733 472h1v1h-1zM736 472h1v1h-1zM765 472h1v1h-1zM775 472h1v1h-1zM800 472h1v1h-1zM803 472h1v1h-1zM970 472h2v1h-2zM224 473h1v1h-1zM229 473h1v1h-1zM416 473h1v1h-1zM453 473h1v1h-1zM460 473h2v1h-2zM463 473h1v1h-1zM485 473h2v1h-2zM598 473h1v1h-1zM607 473h1v1h-1zM734 473h1v1h-1zM736 473h1v1h-1zM766 473h1v1h-1zM774 473h1v1h-1zM801 473h2v1h-2zM970 473h1v1h-1zM224 474h1v1h-1zM229 474h1v1h-1zM417 474h1v1h-1zM453 474h1v1h-1zM462 474h1v1h-1zM598 474h2v1h-2zM606 474h1v1h-1zM734 474h2v1h-2zM767 474h1v1h-1zM773 474h1v1h-1zM802 474h1v1h-1zM970 474h1v1h-1zM224 475h1v1h-1zM229 475h1v1h-1zM417 475h1v1h-1zM452 475h1v1h-1zM600 475h7v1h-7zM734 475h1v1h-1zM768 475h1v1h-1zM772 475h1v1h-1zM224 476h1v1h-1zM228 476h1v1h-1zM418 476h1v1h-1zM452 476h1v1h-1zM768 476h1v1h-1zM772 476h1v1h-1zM225 477h1v1h-1zM228 477h1v1h-1zM419 477h2v1h-2zM450 477h2v1h-2zM769 477h1v1h-1zM771 477h1v1h-1zM225 478h1v1h-1zM227 478h1v1h-1zM421 478h2v1h-2zM448 478h2v1h-2zM770 478h1v1h-1zM225 479h1v1h-1zM227 479h1v1h-1zM423 479h1v1h-1zM446 479h2v1h-2zM225 480h1v1h-1zM227 480h1v1h-1zM424 480h2v1h-2zM444 480h2v1h-2zM226 481h1v1h-1zM426 481h2v1h-2zM443 481h1v1h-1zM226 482h1v1h-1zM428 482h4v1h-4zM440 482h3v1h-3zM432 483h8v1h-8z"/>
<rect x="1307" y="39" width="2" height="1" fill="#000" shape-rendering="crispEdges"/>
<text x="1312.3" y="43.0" font-size="9.8" fill="#000" textLength="32.5" lengthAdjust="spacingAndGlyphs" >1.01350</text>
<rect x="1307" y="72" width="2" height="1" fill="#000" shape-rendering="crispEdges"/>
<text x="1312.3" y="76.0" font-size="9.8" fill="#000" textLength="32.5" lengthAdjust="spacingAndGlyphs" >1.00970</text>
<rect x="1307" y="105" width="2" height="1" fill="#000" shape-rendering="crispEdges"/>
<text x="1312.3" y="109.0" font-size="9.8" fill="#000" textLength="32.5" lengthAdjust="spacingAndGlyphs" >1.00600</text>
<rect x="1307" y="138" width="2" height="1" fill="#000" shape-rendering="crispEdges"/>
<text x="1312.3" y="142.0" font-size="9.8" fill="#000" textLength="32.5" lengthAdjust="spacingAndGlyphs" >1.00220</text>
<rect x="1307" y="171" width="2" height="1" fill="#000" shape-rendering="crispEdges"/>
<text x="1312.3" y="175.0" font-size="9.8" fill="#000" textLength="32.5" lengthAdjust="spacingAndGlyphs" >0.99850</text>
<rect x="1307" y="204" width="2" height="1" fill="#000" shape-rendering="crispEdges"/>
<text x="1312.3" y="208.0" font-size="9.8" fill="#000" textLength="32.5" lengthAdjust="spacingAndGlyphs" >0.99470</text>
<rect x="1307" y="237" width="2" height="1" fill="#000" shape-rendering="crispEdges"/>
<text x="1312.3" y="241.0" font-size="9.8" fill="#000" textLength="32.5" lengthAdjust="spacingAndGlyphs" >0.99100</text>
<rect x="1307" y="270" width="2" height="1" fill="#000" shape-rendering="crispEdges"/>
<text x="1312.3" y="274.0" font-size="9.8" fill="#000" textLength="32.5" lengthAdjust="spacingAndGlyphs" >0.98720</text>
<rect x="1307" y="303" width="2" height="1" fill="#000" shape-rendering="crispEdges"/>
<text x="1312.3" y="307.0" font-size="9.8" fill="#000" textLength="32.5" lengthAdjust="spacingAndGlyphs" >0.98350</text>
<rect x="1308" y="274" width="41" height="11" fill="#000" shape-rendering="crispEdges"/>
<text x="1312.5" y="283" font-size="9.8" fill="#fff" textLength="32.4" lengthAdjust="spacingAndGlyphs" >0.98625</text>
<text x="1310.2" y="319" font-size="9.8" fill="#000" textLength="37.4" lengthAdjust="spacingAndGlyphs" >0.002492</text>
<text x="1310" y="348" font-size="9.8" fill="#000" textLength="18" lengthAdjust="spacingAndGlyphs" >0.00</text>
<text x="1310.1" y="395" font-size="9.8" fill="#000" textLength="40.5" lengthAdjust="spacingAndGlyphs" >-0.003913</text>
<rect x="1307" y="310" width="1" height="1" fill="#000" shape-rendering="crispEdges"/>
<rect x="1307" y="344" width="1" height="1" fill="#000" shape-rendering="crispEdges"/>
<rect x="1307" y="397" width="1" height="1" fill="#000" shape-rendering="crispEdges"/>
<text x="1310.4" y="411" font-size="9.8" fill="#000" textLength="14.5" lengthAdjust="spacingAndGlyphs" >100</text>
<text x="1309.2" y="438" font-size="9.8" fill="#000" textLength="9.9" lengthAdjust="spacingAndGlyphs" >70</text>
<text x="1309.2" y="482" font-size="9.8" fill="#000" textLength="9.9" lengthAdjust="spacingAndGlyphs" >30</text>
<text x="1310.6" y="509" font-size="9.8" fill="#000" textLength="4.6" lengthAdjust="spacingAndGlyphs" >0</text>
<rect x="1307" y="402" width="1" height="1" fill="#000" shape-rendering="crispEdges"/>
<rect x="1307" y="511" width="1" height="1" fill="#000" shape-rendering="crispEdges"/>
<rect x="6" y="513" width="1" height="3" fill="#000" shape-rendering="crispEdges"/>
<text x="5.6" y="525" font-size="9.7" fill="#000" textLength="50.6" lengthAdjust="spacingAndGlyphs" >25 Oct 2018</text>
<rect x="70" y="513" width="1" height="3" fill="#000" shape-rendering="crispEdges"/>
<text x="69.3" y="525" font-size="9.7" fill="#000" textLength="53.5" lengthAdjust="spacingAndGlyphs" >30 Oct 00:00</text>
<rect x="134" y="513" width="1" height="3" fill="#000" shape-rendering="crispEdges"/>
<text x="133.3" y="525" font-size="9.7" fill="#000" textLength="51.6" lengthAdjust="spacingAndGlyphs" >1 Nov 18:00</text>
<rect x="198" y="513" width="1" height="3" fill="#000" shape-rendering="crispEdges"/>
<text x="197.6" y="525" font-size="9.7" fill="#000" textLength="51.3" lengthAdjust="spacingAndGlyphs" >6 Nov 11:00</text>
<rect x="262" y="513" width="1" height="3" fill="#000" shape-rendering="crispEdges"/>
<text x="261.4" y="525" font-size="9.7" fill="#000" textLength="51.8" lengthAdjust="spacingAndGlyphs" >9 Nov 00:00</text>
<rect x="326" y="513" width="1" height="3" fill="#000" shape-rendering="crispEdges"/>
<text x="325.6" y="525" font-size="9.7" fill="#000" textLength="56.3" lengthAdjust="spacingAndGlyphs" >13 Nov 19:00</text>
<rect x="390" y="513" width="1" height="3" fill="#000" shape-rendering="crispEdges"/>
<text x="389.6" y="525" font-size="9.7" fill="#000" textLength="56.0" lengthAdjust="spacingAndGlyphs" >16 Nov 11:00</text>
<rect x="454" y="513" width="1" height="3" fill="#000" shape-rendering="crispEdges"/>
<text x="453.6" y="525" font-size="9.7" fill="#000" textLength="55.9" lengthAdjust="spacingAndGlyphs" >21 Nov 00:00</text>
<rect x="518" y="513" width="1" height="3" fill="#000" shape-rendering="crispEdges"/>
<text x="516.9" y="525" font-size="9.7" fill="#000" textLength="57.0" lengthAdjust="spacingAndGlyphs" >23 Nov 19:00</text>
<rect x="582" y="513" width="1" height="3" fill="#000" shape-rendering="crispEdges"/>
<text x="581.6" y="525" font-size="9.7" fill="#000" textLength="56.6" lengthAdjust="spacingAndGlyphs" >28 Nov 11:00</text>
<rect x="646" y="513" width="1" height="3" fill="#000" shape-rendering="crispEdges"/>
<text x="645.3" y="525" font-size="9.7" fill="#000" textLength="49.8" lengthAdjust="spacingAndGlyphs" >1 Dec 00:00</text>
<rect x="710" y="513" width="1" height="3" fill="#000" shape-rendering="crispEdges"/>
<text x="709.5" y="525" font-size="9.7" fill="#000" textLength="49.6" lengthAdjust="spacingAndGlyphs" >5 Dec 19:00</text>
<rect x="774" y="513" width="1" height="3" fill="#000" shape-rendering="crispEdges"/>
<text x="773.9" y="525" font-size="9.7" fill="#000" textLength="53.9" lengthAdjust="spacingAndGlyphs" >10 Dec 11:00</text>
<rect x="838" y="513" width="1" height="3" fill="#000" shape-rendering="crispEdges"/>
<text x="837.8" y="525" font-size="9.7" fill="#000" textLength="54.3" lengthAdjust="spacingAndGlyphs" >13 Dec 00:00</text>
<rect x="902" y="513" width="1" height="3" fill="#000" shape-rendering="crispEdges"/>
<text x="901.8" y="525" font-size="9.7" fill="#000" textLength="54.2" lengthAdjust="spacingAndGlyphs" >17 Dec 19:00</text>
<rect x="966" y="513" width="1" height="3" fill="#000" shape-rendering="crispEdges"/>
<text x="965.4" y="525" font-size="9.7" fill="#000" textLength="54.6" lengthAdjust="spacingAndGlyphs" >20 Dec 11:00</text>
<rect x="1030" y="513" width="1" height="3" fill="#000" shape-rendering="crispEdges"/>
<text x="1029.7" y="525" font-size="9.7" fill="#000" textLength="54.0" lengthAdjust="spacingAndGlyphs" >25 Dec 00:00</text>
<path d="M9 42L12.5 38L16 42Z" fill="#000"/>
<text x="21.2" y="43.1" font-size="10.2" fill="#000" textLength="54" lengthAdjust="spacingAndGlyphs" >USDCHF,H4</text>
<text x="82.2" y="43.1" font-size="10.2" fill="#000" textLength="140.3" lengthAdjust="spacingAndGlyphs" >0.98532 0.98625 0.98502 0.98625</text>
<text x="10" y="321" font-size="10.2" fill="#000" textLength="154" lengthAdjust="spacingAndGlyphs" >MACD(12,26,9) -0.001248 -0.000546</text>
<text x="10" y="413" font-size="10.2" fill="#000" textLength="68" lengthAdjust="spacingAndGlyphs" >RSI(14) 41.7639</text>
<rect x="9" y="51" width="219.5" height="65.4" fill="#ffffff" />
<rect x="9" y="51" width="51.6" height="24" fill="url(#gTop)" />
<rect x="176" y="51" width="52" height="24" fill="url(#gTop)" />
<rect x="9" y="75" width="109" height="40" fill="url(#gBot)" />
<rect x="120" y="75" width="108" height="40" fill="url(#gBot)" />
<rect x="13" y="74.4" width="44" height="1" fill="#9494f2" />
<rect x="180" y="74.4" width="44" height="1" fill="#9494f2" />
<rect x="63" y="51" width="111" height="22" fill="#b2b2b2" />
<rect x="64" y="52" width="109" height="20" fill="#ffffff" />
<rect x="65" y="53" width="18.6" height="18" fill="url(#gBtn)" />
<rect x="153.2" y="53" width="18.8" height="18" fill="url(#gBtn)" />
<rect x="84" y="52" width="1" height="20" fill="#b8b8b8" />
<rect x="152" y="52" width="1" height="20" fill="#b8b8b8" />
<path d="M71.400 60.400H76L73.700 62.900Z" fill="#5a6bbf"/>
<path d="M160.200 62.900H164.800L162.500 60.400Z" fill="#5a6bbf"/>
<text x="148.6" y="66" font-size="12.5" fill="#111" text-anchor="end" >0.50</text>
<text x="34.2" y="67" font-size="12.8" fill="#fff" textLength="25.5" lengthAdjust="spacingAndGlyphs" text-anchor="middle" >SELL</text>
<text x="201" y="67" font-size="12.8" fill="#fff" textLength="23" lengthAdjust="spacingAndGlyphs" text-anchor="middle" >BUY</text>
<text x="29.1" y="106" font-size="11.8" fill="#fff" textLength="24" lengthAdjust="spacingAndGlyphs" font-weight="bold" >0.98</text>
<text x="56.4" y="106" font-size="35.6" fill="#fff" textLength="34.6" lengthAdjust="spacingAndGlyphs" stroke="url(#gBotU)" stroke-width="0.25">62</text>
<text x="96.8" y="90" font-size="13" fill="#fff" textLength="6" lengthAdjust="spacingAndGlyphs" font-weight="bold" >5</text>
<text x="139.1" y="106" font-size="11.8" fill="#fff" textLength="24" lengthAdjust="spacingAndGlyphs" font-weight="bold" >0.98</text>
<text x="167.4" y="106" font-size="35.6" fill="#fff" textLength="34.6" lengthAdjust="spacingAndGlyphs" stroke="url(#gBotU)" stroke-width="0.25">65</text>
<text x="206.8" y="90" font-size="13" fill="#fff" textLength="6" lengthAdjust="spacingAndGlyphs" font-weight="bold" >0</text>
<path d="M0 9h1v1h-1zM2 9h1v1h-1zM4 9h1v1h-1zM6 9h1v1h-1zM8 9h1v1h-1zM10 9h1v1h-1zM1 21h1v1h-1zM3 21h1v1h-1zM5 21h1v1h-1zM7 21h1v1h-1zM9 21h1v1h-1zM10 11h1v1h-1zM10 13h1v1h-1zM10 15h1v1h-1zM10 17h1v1h-1zM10 19h1v1h-1z" fill="#5a5a5a" shape-rendering="crispEdges"/>
<rect x="1" y="12" width="8" height="1" fill="#505050" shape-rendering="crispEdges"/>
<rect x="4" y="13" width="2" height="7" fill="#505050" shape-rendering="crispEdges"/>
<path d="M29.5 8.7L33 12.2L31.6 13.6H27.4L26 12.2Z" fill="#555"/><path d="M34.6 17.4H38.4L40 18.8L36.5 22.1L33 18.8Z" fill="#555"/><path d="M28 16.6L30.4 18.8L34.8 13.4" fill="none" stroke="#555" stroke-width="1.2"/>
<path d="M46.8 14H52.2L49.5 17Z" fill="#000"/>
<rect x="58" y="2" width="1" height="25" fill="#a0a0a0" />
<rect x="59" y="2" width="1" height="25" fill="#ffffff" />
<rect x="62" y="5" width="3" height="1" fill="#a8a8a8" />
<rect x="62" y="7" width="3" height="1" fill="#a8a8a8" />
<rect x="62" y="9" width="3" height="1" fill="#a8a8a8" />
<rect x="62" y="11" width="3" height="1" fill="#a8a8a8" />
<rect x="62" y="13" width="3" height="1" fill="#a8a8a8" />
<rect x="62" y="15" width="3" height="1" fill="#a8a8a8" />
<rect x="62" y="17" width="3" height="1" fill="#a8a8a8" />
<rect x="62" y="19" width="3" height="1" fill="#a8a8a8" />
<rect x="62" y="21" width="3" height="1" fill="#a8a8a8" />
<rect x="62" y="23" width="3" height="1" fill="#a8a8a8" />
<rect x="208" y="3" width="26" height="23" fill="#f8f8f8" />
<rect x="208" y="3" width="26" height="1" fill="#a0a0a0" />
<rect x="208" y="3" width="1" height="23" fill="#a0a0a0" />
<rect x="233" y="3" width="1" height="23" fill="#fff" />
<rect x="208" y="25" width="26" height="1" fill="#fff" />
<text x="73.6" y="19" font-size="10.2" fill="#484848" textLength="12.4" lengthAdjust="spacingAndGlyphs" >M1</text>
<text x="101.8" y="19" font-size="10.2" fill="#484848" textLength="12.4" lengthAdjust="spacingAndGlyphs" >M5</text>
<text x="127.7" y="19" font-size="10.2" fill="#484848" textLength="17.5" lengthAdjust="spacingAndGlyphs" >M15</text>
<text x="155.9" y="19" font-size="10.2" fill="#484848" textLength="17.5" lengthAdjust="spacingAndGlyphs" >M30</text>
<text x="186.6" y="19" font-size="10.2" fill="#484848" textLength="11.6" lengthAdjust="spacingAndGlyphs" >H1</text>
<text x="213.7" y="19" font-size="10.2" fill="#484848" textLength="12.3" lengthAdjust="spacingAndGlyphs" >H4</text>
<text x="242.5" y="19" font-size="10.2" fill="#484848" textLength="11.8" lengthAdjust="spacingAndGlyphs" >D1</text>
<text x="270.3" y="19" font-size="10.2" fill="#484848" textLength="13.9" lengthAdjust="spacingAndGlyphs" >W1</text>
<text x="296.5" y="19" font-size="10.2" fill="#484848" textLength="14.8" lengthAdjust="spacingAndGlyphs" >MN</text>
<rect x="319" y="2" width="1" height="25" fill="#a0a0a0" />
<rect x="320" y="2" width="1" height="25" fill="#ffffff" />
<rect x="3" y="534" width="1350" height="1" fill="#e6e6e6" />
<rect x="1" y="535" width="1353" height="1" fill="#000" shape-rendering="crispEdges"/>
<rect x="0" y="536" width="1352" height="19" fill="#f0f0f0" />
<rect x="0" y="536" width="1" height="18" fill="#f8f8f8" />
<rect x="1" y="536" width="1" height="18" fill="#a8a8a8" />
<rect x="2" y="536" width="1" height="18" fill="#606060" />
<rect x="3" y="536" width="1" height="18" fill="#fafafa" />
<rect x="0" y="554" width="3" height="1" fill="#a0a0a0" />
<rect x="0" y="555" width="1354" height="1" fill="#ffffff" />
<rect x="0" y="556" width="1354" height="3" fill="#f0f0f0" />
<rect x="0" y="559" width="1351" height="1" fill="#a0a0a0" />
<rect x="0" y="560" width="1354" height="1" fill="#ffffff" />
<rect x="203" y="535" width="88" height="19" fill="#000" shape-rendering="crispEdges"/>
<rect x="204" y="535" width="86" height="18" fill="#fff" shape-rendering="crispEdges"/>
<text x="19.5" y="549.8" font-size="11.9" fill="#6a6a6a" textLength="67.3" lengthAdjust="spacingAndGlyphs" >EURUSD,H4</text>
<text x="109.9" y="549.8" font-size="11.9" fill="#6a6a6a" textLength="82.1" lengthAdjust="spacingAndGlyphs" >AUDUSD,Daily</text>
<text x="213.6" y="549.8" font-size="11.9" fill="#000" textLength="66.2" lengthAdjust="spacingAndGlyphs" >USDCHF,H4</text>
<text x="301.5" y="549.8" font-size="11.9" fill="#6a6a6a" textLength="78.1" lengthAdjust="spacingAndGlyphs" >USDCAD,M30</text>
<text x="401.3" y="549.8" font-size="11.9" fill="#6a6a6a" textLength="70.7" lengthAdjust="spacingAndGlyphs" >USDCNH,H4</text>
<text x="492.8" y="549.8" font-size="11.9" fill="#6a6a6a" textLength="63.3" lengthAdjust="spacingAndGlyphs" >USDJPY,H4</text>
<text x="577.9" y="549.8" font-size="11.9" fill="#6a6a6a" textLength="80.7" lengthAdjust="spacingAndGlyphs" >XAUUSD,Daily</text>
<text x="682" y="549.8" font-size="11.9" fill="#6a6a6a" textLength="77.8" lengthAdjust="spacingAndGlyphs" >GBPUSD,M15</text>
<text x="782.2" y="549.8" font-size="11.9" fill="#6a6a6a" textLength="53.6" lengthAdjust="spacingAndGlyphs" >SP500,H1</text>
<rect x="99" y="539" width="1" height="13" fill="#707070" />
<rect x="391" y="539" width="1" height="13" fill="#707070" />
<rect x="483" y="539" width="1" height="13" fill="#707070" />
<rect x="567" y="539" width="1" height="13" fill="#707070" />
<rect x="671" y="539" width="1" height="13" fill="#707070" />
<rect x="771" y="539" width="1" height="13" fill="#707070" />
<rect x="848" y="539" width="1" height="13" fill="#707070" />
<path d="M1325 541V547L1322 544Z" fill="#9a9a9a"/><path d="M1341 541V547L1344 544Z" fill="#9a9a9a"/>
<rect x="1354" y="0" width="49" height="29" fill="#ffffff" />
<rect x="1354" y="29" width="40" height="532" fill="#f4f5f5" />
<rect x="1354" y="29" width="40" height="1" fill="#e4e4e4" />
<rect x="1394" y="30" width="9" height="35" fill="#002f66" />
<rect x="1394" y="65" width="9" height="70" fill="#f3f3f3" />
<rect x="1394" y="135" width="9" height="426" fill="#ebecf1" />
<rect x="1393" y="30" width="1" height="531" fill="#e8e9eb" />
<path d="M1375.6 9.6L1370.6 14.5L1375.6 19.4" fill="none" stroke="#555" stroke-width="1.1"/><path d="M1378.5 9.4V19.7" stroke="#555" stroke-width="1.1"/>
<path d="M1399 12.500L1403 12.100V21L1401.900 21.600L1401.400 17.200Z" fill="#fbc02d"/>
<rect x="1359.5" y="49.5" width="27" height="27" rx="1.5" fill="#ffd94a" stroke="#f4c53c"/>
<path d="M1373 54.2l2.700 5.700 6.200.7-4.600 4.300 1.300 6.100-5.600-3.100-5.600 3.100 1.300-6.100-4.600-4.300 6.200-.7z" fill="#fff" stroke="#fff" stroke-width="0.8" stroke-linejoin="round"/>
<defs><linearGradient id="gDoc" x1="0" y1="0" x2="0" y2="1"><stop offset="0" stop-color="#7ba7f5"/><stop offset="1" stop-color="#5a8cee"/></linearGradient></defs>
<rect x="1379" y="98.500" width="7" height="22" rx="1" fill="#93b7f8"/>
<rect x="1359" y="95" width="23" height="25.600" rx="1.500" fill="url(#gDoc)"/>
<rect x="1363" y="101" width="15" height="3.4" fill="#f4f8ff" />
<rect x="1363" y="108" width="4.7" height="7" fill="#e6eefd" />
<rect x="1370.3" y="108" width="7.5" height="2.1" fill="#f4f8ff" />
<rect x="1370.3" y="113" width="7.5" height="2.1" fill="#f4f8ff" />
<rect x="1359.500" y="139.500" width="27" height="27" rx="1.200" fill="#ffda44" stroke="#ffc224"/>
<path d="M1361.15 156.00C1361.35 154.48 1362.11 151.61 1363.27 149.94C1364.43 148.27 1366.81 146.81 1368.12 146.00C1369.43 145.19 1370.24 145.09 1371.15 145.09C1372.06 145.09 1373.07 145.34 1373.58 146.00C1374.08 146.66 1373.68 148.68 1374.18 149.03C1374.69 149.38 1375.75 148.12 1376.61 148.12C1377.46 148.12 1378.78 148.42 1379.33 149.03C1379.89 149.64 1379.38 150.80 1379.94 151.76C1380.49 152.72 1382.31 153.68 1382.67 154.79C1383.02 155.90 1382.77 157.31 1382.06 158.42C1381.35 159.54 1380.04 160.75 1378.42 161.45C1376.81 162.16 1374.38 162.62 1372.36 162.67C1370.34 162.72 1368.02 162.36 1366.30 161.76C1364.59 161.15 1362.92 159.99 1362.06 159.03C1361.20 158.07 1360.95 157.52 1361.15 156.00Z" fill="#f75842"/>
<ellipse cx="1371.200" cy="156.300" rx="7.200" ry="4.500" fill="#fffaf4"/>
<circle cx="1370.500" cy="156.300" r="3.300" fill="#343434"/><circle cx="1369.700" cy="157.200" r="1" fill="#fff"/>
<path d="M1378.300 143.300a6.300 6.300 0 0 1 6.100 6.200M1378.800 146.300a3.500 3.500 0 0 1 3.100 3.400" fill="none" stroke="#f8673c" stroke-width="1.300" stroke-linecap="round"/>
<rect x="1358.700" y="183.700" width="28.500" height="28.200" fill="#fff"/>
<clipPath id="cAt"><path clip-rule="evenodd" d="M1358.700 183.700h28.500v28.200h-28.500zM1360.800 185.800v24h24.300v-24z"/></clipPath>
<g clip-path="url(#cAt)">
<path d="M1358.0 183.7L1363.4 183.7L1303.4 243.7L1298.0 243.7Z" fill="#3aa3ff"/>
<path d="M1366.5 183.7L1371.9 183.7L1311.9 243.7L1306.5 243.7Z" fill="#f4523a"/>
<path d="M1375.0 183.7L1380.4 183.7L1320.4 243.7L1315.0 243.7Z" fill="#3aa3ff"/>
<path d="M1383.5 183.7L1388.9 183.7L1328.9 243.7L1323.5 243.7Z" fill="#f4523a"/>
<path d="M1392.0 183.7L1397.4 183.7L1337.4 243.7L1332.0 243.7Z" fill="#3aa3ff"/>
<path d="M1401.0 183.7L1406.4 183.7L1346.4 243.7L1341.0 243.7Z" fill="#f4523a"/>
<path d="M1410.0 183.7L1415.4 183.7L1355.4 243.7L1350.0 243.7Z" fill="#3aa3ff"/>
</g>
<g fill="none" stroke="#f4523a" stroke-width="1.700" stroke-linecap="round"><circle cx="1373.200" cy="197.600" r="2.700"/><path d="M1376 194.600V199.100A1.900 1.900 0 0 0 1379.800 199.100V197.300A6.400 6.400 0 1 0 1377.100 202.900"/></g>
</svg>
</body></html>
